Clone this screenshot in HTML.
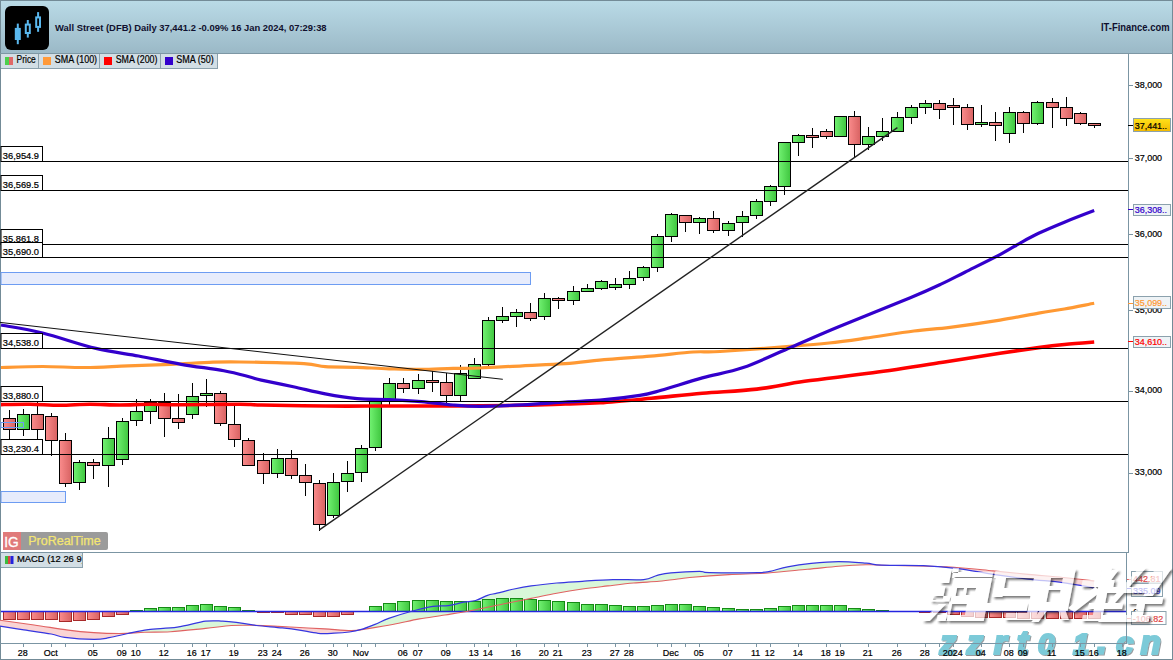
<!DOCTYPE html>
<html><head><meta charset="utf-8"><style>
html,body{margin:0;padding:0;width:1173px;height:660px;overflow:hidden;background:#fff}
svg{display:block}
text{font-family:"Liberation Sans", sans-serif}
</style></head><body>
<svg width="1173" height="660" viewBox="0 0 1173 660">
<defs>
<linearGradient id="hdr" x1="0" y1="0" x2="0" y2="1"><stop offset="0" stop-color="#badbe7"/><stop offset="1" stop-color="#9bb9c7"/></linearGradient>
<linearGradient id="gG" x1="0" y1="0" x2="1" y2="0"><stop offset="0" stop-color="#72f272"/><stop offset="1" stop-color="#3fc63f"/></linearGradient>
<linearGradient id="gR" x1="0" y1="0" x2="1" y2="0"><stop offset="0" stop-color="#fa8c8c"/><stop offset="1" stop-color="#d86262"/></linearGradient>
<linearGradient id="yl" x1="0" y1="0" x2="0" y2="1"><stop offset="0" stop-color="#ffe21a"/><stop offset="1" stop-color="#f2b800"/></linearGradient>
</defs>

<rect x="0" y="0" width="1173" height="53" fill="url(#hdr)"/>
<rect x="0.5" y="0.5" width="1172" height="659" fill="none" stroke="#738b97" stroke-width="1"/>
<line x1="0" y1="53.5" x2="1173" y2="53.5" stroke="#7d97a4"/>
<rect x="5" y="6" width="44" height="44" rx="6" fill="#000"/>
<g fill="none" stroke="#5ab8ee" stroke-width="2"><rect x="14.8" y="27.9" width="6" height="12.1" fill="#5ab8ee" stroke="none"/><line x1="17.8" y1="23.6" x2="17.8" y2="44.2"/><rect x="25.8" y="24.6" width="4" height="8.4"/><line x1="27.8" y1="20" x2="27.8" y2="24.6"/><line x1="27.8" y1="33" x2="27.8" y2="37.6"/><rect x="36.2" y="17.4" width="3.8" height="9.5"/><line x1="38.1" y1="12.1" x2="38.1" y2="17.4"/><line x1="38.1" y1="26.9" x2="38.1" y2="31.8"/></g>
<text x="55.1" y="30.6" font-size="9.9" font-weight="bold" fill="#10102e" textLength="271.5" lengthAdjust="spacingAndGlyphs">Wall Street (DFB) Daily 37,441.2 -0.09% 16 Jan 2024, 07:29:38</text>
<text x="1101" y="30.9" font-size="10" fill="#10102e" textLength="68.5" lengthAdjust="spacingAndGlyphs" font-weight="bold">IT-Finance.com</text>
<rect x="1" y="54" width="216.5" height="14.5" fill="#d2dee5"/>
<line x1="38.5" y1="54" x2="38.5" y2="69" stroke="#8ba1ad"/>
<line x1="99.5" y1="54" x2="99.5" y2="69" stroke="#8ba1ad"/>
<line x1="160.5" y1="54" x2="160.5" y2="69" stroke="#8ba1ad"/>
<line x1="217.5" y1="54" x2="217.5" y2="69" stroke="#8ba1ad"/>
<line x1="1" y1="68.5" x2="218" y2="68.5" stroke="#8ba1ad"/>
<rect x="5" y="57" width="4" height="8" fill="#4ccf4c"/><rect x="9" y="57" width="4" height="8" fill="#e06868"/>
<rect x="43" y="57" width="8" height="8" fill="#ff9a3a"/>
<rect x="104" y="57" width="8" height="8" fill="#ff0000"/>
<rect x="165" y="57" width="8" height="8" fill="#3300cc"/>
<text x="16.6" y="62.8" font-size="10" fill="#000" textLength="19.2" lengthAdjust="spacingAndGlyphs" stroke="#000" stroke-width="0.2">Price</text>
<text x="54.8" y="62.8" font-size="10" fill="#000" textLength="42.3" lengthAdjust="spacingAndGlyphs" stroke="#000" stroke-width="0.2">SMA (100)</text>
<text x="115.7" y="62.8" font-size="10" fill="#000" textLength="41.8" lengthAdjust="spacingAndGlyphs" stroke="#000" stroke-width="0.2">SMA (200)</text>
<text x="176.3" y="62.8" font-size="10" fill="#000" textLength="37.5" lengthAdjust="spacingAndGlyphs" stroke="#000" stroke-width="0.2">SMA (50)</text>
<line x1="1128.5" y1="54" x2="1128.5" y2="552" stroke="#7b95a3"/>
<line x1="0" y1="552.5" x2="1129" y2="552.5" stroke="#7b95a3"/>
<rect x="1" y="272.5" width="529.5" height="12" fill="#e7ecfc" stroke="#6d9cf2" stroke-width="1"/>
<rect x="1" y="491.5" width="64.5" height="11" fill="#e7ecfc" stroke="#6d9cf2" stroke-width="1"/>
<g stroke="#000" stroke-width="1">
<line x1="9.5" y1="410" x2="9.5" y2="439"/>
<rect x="3.5" y="418.5" width="12" height="11" fill="url(#gR)"/>
<line x1="23.5" y1="409" x2="23.5" y2="436"/>
<rect x="17.5" y="414.5" width="12" height="15" fill="url(#gG)"/>
<line x1="37.5" y1="402" x2="37.5" y2="439"/>
<rect x="31.5" y="414.5" width="12" height="15" fill="url(#gR)"/>
<line x1="51.5" y1="413" x2="51.5" y2="456"/>
<rect x="45.5" y="416.5" width="12" height="24" fill="url(#gR)"/>
<line x1="65.5" y1="433" x2="65.5" y2="487"/>
<rect x="59.5" y="440.5" width="12" height="43" fill="url(#gR)"/>
<line x1="79.5" y1="460" x2="79.5" y2="490"/>
<rect x="73.5" y="462.5" width="12" height="20" fill="url(#gG)"/>
<line x1="93.5" y1="459" x2="93.5" y2="479"/>
<rect x="87.5" y="462.5" width="12" height="3" fill="url(#gR)"/>
<line x1="108.5" y1="427" x2="108.5" y2="487"/>
<rect x="102.5" y="438.5" width="12" height="27" fill="url(#gG)"/>
<line x1="122.5" y1="418" x2="122.5" y2="465"/>
<rect x="116.5" y="421.5" width="12" height="38" fill="url(#gG)"/>
<line x1="136.5" y1="399" x2="136.5" y2="426"/>
<rect x="130.5" y="411.5" width="12" height="9" fill="url(#gG)"/>
<line x1="150.5" y1="399" x2="150.5" y2="424"/>
<rect x="144.5" y="402.5" width="12" height="9" fill="url(#gG)"/>
<line x1="164.5" y1="393" x2="164.5" y2="437"/>
<rect x="158.5" y="402.5" width="12" height="16" fill="url(#gR)"/>
<line x1="178.5" y1="394" x2="178.5" y2="429"/>
<rect x="172.5" y="418.5" width="12" height="4" fill="url(#gR)"/>
<line x1="192.5" y1="383" x2="192.5" y2="419"/>
<rect x="186.5" y="396.5" width="12" height="18" fill="url(#gG)"/>
<line x1="206.5" y1="379" x2="206.5" y2="407"/>
<rect x="200.5" y="393.5" width="12" height="2" fill="url(#gG)"/>
<line x1="220.5" y1="391" x2="220.5" y2="426"/>
<rect x="214.5" y="393.5" width="12" height="30" fill="url(#gR)"/>
<line x1="234.5" y1="405" x2="234.5" y2="447"/>
<rect x="228.5" y="424.5" width="12" height="15" fill="url(#gR)"/>
<line x1="248.5" y1="438" x2="248.5" y2="466"/>
<rect x="242.5" y="440.5" width="12" height="25" fill="url(#gR)"/>
<line x1="263.5" y1="453" x2="263.5" y2="484"/>
<rect x="257.5" y="460.5" width="12" height="13" fill="url(#gR)"/>
<line x1="277.5" y1="449" x2="277.5" y2="478"/>
<rect x="271.5" y="458.5" width="12" height="15" fill="url(#gG)"/>
<line x1="291.5" y1="450" x2="291.5" y2="479"/>
<rect x="285.5" y="458.5" width="12" height="17" fill="url(#gR)"/>
<line x1="305.5" y1="464" x2="305.5" y2="496"/>
<rect x="299.5" y="475.5" width="12" height="7" fill="url(#gR)"/>
<line x1="319.5" y1="480" x2="319.5" y2="531"/>
<rect x="313.5" y="483.5" width="12" height="41" fill="url(#gR)"/>
<line x1="333.5" y1="473" x2="333.5" y2="518"/>
<rect x="327.5" y="482.5" width="12" height="33" fill="url(#gG)"/>
<line x1="347.5" y1="461" x2="347.5" y2="492"/>
<rect x="341.5" y="473.5" width="12" height="8" fill="url(#gG)"/>
<line x1="361.5" y1="445" x2="361.5" y2="482"/>
<rect x="355.5" y="448.5" width="12" height="24" fill="url(#gG)"/>
<line x1="375.5" y1="399" x2="375.5" y2="451"/>
<rect x="369.5" y="401.5" width="12" height="46" fill="url(#gG)"/>
<line x1="389.5" y1="378" x2="389.5" y2="405"/>
<rect x="383.5" y="383.5" width="12" height="16" fill="url(#gG)"/>
<line x1="403.5" y1="378" x2="403.5" y2="393"/>
<rect x="397.5" y="383.5" width="12" height="5" fill="url(#gR)"/>
<line x1="418.5" y1="374" x2="418.5" y2="394"/>
<rect x="412.5" y="380.5" width="12" height="8" fill="url(#gG)"/>
<line x1="432.5" y1="371" x2="432.5" y2="392"/>
<rect x="426.5" y="380.5" width="12" height="2" fill="url(#gR)"/>
<line x1="446.5" y1="373" x2="446.5" y2="403"/>
<rect x="440.5" y="382.5" width="12" height="13" fill="url(#gR)"/>
<line x1="460.5" y1="365" x2="460.5" y2="401"/>
<rect x="454.5" y="373.5" width="12" height="22" fill="url(#gG)"/>
<line x1="474.5" y1="358" x2="474.5" y2="379"/>
<rect x="468.5" y="364.5" width="12" height="14" fill="url(#gG)"/>
<line x1="488.5" y1="317" x2="488.5" y2="366"/>
<rect x="482.5" y="320.5" width="12" height="44" fill="url(#gG)"/>
<line x1="502.5" y1="307" x2="502.5" y2="323"/>
<rect x="496.5" y="316.5" width="12" height="4" fill="url(#gG)"/>
<line x1="516.5" y1="309" x2="516.5" y2="327"/>
<rect x="510.5" y="312.5" width="12" height="4" fill="url(#gG)"/>
<line x1="530.5" y1="303" x2="530.5" y2="321"/>
<rect x="524.5" y="312.5" width="12" height="6" fill="url(#gR)"/>
<line x1="544.5" y1="293" x2="544.5" y2="320"/>
<rect x="538.5" y="298.5" width="12" height="18" fill="url(#gG)"/>
<line x1="558.5" y1="297" x2="558.5" y2="309"/>
<rect x="552.5" y="298.5" width="12" height="2" fill="url(#gR)"/>
<line x1="573.5" y1="286" x2="573.5" y2="305"/>
<rect x="567.5" y="291.5" width="12" height="9" fill="url(#gG)"/>
<line x1="587.5" y1="284" x2="587.5" y2="292"/>
<rect x="581.5" y="288.5" width="12" height="3" fill="url(#gG)"/>
<line x1="601.5" y1="280" x2="601.5" y2="290"/>
<rect x="595.5" y="281.5" width="12" height="7" fill="url(#gG)"/>
<line x1="615.5" y1="278" x2="615.5" y2="290"/>
<rect x="609.5" y="284.5" width="12" height="3" fill="url(#gG)"/>
<line x1="629.5" y1="271" x2="629.5" y2="289"/>
<rect x="623.5" y="278.5" width="12" height="6" fill="url(#gG)"/>
<line x1="643.5" y1="266" x2="643.5" y2="281"/>
<rect x="637.5" y="267.5" width="12" height="10" fill="url(#gG)"/>
<line x1="657.5" y1="234" x2="657.5" y2="272"/>
<rect x="651.5" y="236.5" width="12" height="31" fill="url(#gG)"/>
<line x1="671.5" y1="213" x2="671.5" y2="242"/>
<rect x="665.5" y="214.5" width="12" height="22" fill="url(#gG)"/>
<line x1="685.5" y1="215" x2="685.5" y2="232"/>
<rect x="679.5" y="215.5" width="12" height="7" fill="url(#gR)"/>
<line x1="699.5" y1="217" x2="699.5" y2="234"/>
<rect x="693.5" y="218.5" width="12" height="4" fill="url(#gG)"/>
<line x1="713.5" y1="211" x2="713.5" y2="233"/>
<rect x="707.5" y="218.5" width="12" height="12" fill="url(#gR)"/>
<line x1="728.5" y1="221" x2="728.5" y2="236"/>
<rect x="722.5" y="223.5" width="12" height="7" fill="url(#gG)"/>
<line x1="742.5" y1="211" x2="742.5" y2="237"/>
<rect x="736.5" y="216.5" width="12" height="6" fill="url(#gG)"/>
<line x1="756.5" y1="199" x2="756.5" y2="219"/>
<rect x="750.5" y="201.5" width="12" height="14" fill="url(#gG)"/>
<line x1="770.5" y1="185" x2="770.5" y2="206"/>
<rect x="764.5" y="186.5" width="12" height="15" fill="url(#gG)"/>
<line x1="784.5" y1="142" x2="784.5" y2="195"/>
<rect x="778.5" y="142.5" width="12" height="44" fill="url(#gG)"/>
<line x1="798.5" y1="134" x2="798.5" y2="156"/>
<rect x="792.5" y="135.5" width="12" height="7" fill="url(#gG)"/>
<line x1="812.5" y1="128" x2="812.5" y2="148"/>
<rect x="806.5" y="135.5" width="12" height="2" fill="url(#gR)"/>
<line x1="826.5" y1="129" x2="826.5" y2="139"/>
<rect x="820.5" y="131.5" width="12" height="5" fill="url(#gR)"/>
<line x1="840.5" y1="116" x2="840.5" y2="137"/>
<rect x="834.5" y="116.5" width="12" height="20" fill="url(#gG)"/>
<line x1="854.5" y1="111" x2="854.5" y2="158"/>
<rect x="848.5" y="116.5" width="12" height="28" fill="url(#gR)"/>
<line x1="868.5" y1="127" x2="868.5" y2="150"/>
<rect x="862.5" y="136.5" width="12" height="8" fill="url(#gG)"/>
<line x1="882.5" y1="118" x2="882.5" y2="141"/>
<rect x="876.5" y="131.5" width="12" height="5" fill="url(#gG)"/>
<line x1="897.5" y1="112" x2="897.5" y2="132"/>
<rect x="891.5" y="117.5" width="12" height="14" fill="url(#gG)"/>
<line x1="911.5" y1="105" x2="911.5" y2="124"/>
<rect x="905.5" y="107.5" width="12" height="10" fill="url(#gG)"/>
<line x1="925.5" y1="100" x2="925.5" y2="114"/>
<rect x="919.5" y="103.5" width="12" height="4" fill="url(#gG)"/>
<line x1="939.5" y1="100" x2="939.5" y2="119"/>
<rect x="933.5" y="103.5" width="12" height="6" fill="url(#gR)"/>
<line x1="953.5" y1="98" x2="953.5" y2="125"/>
<rect x="947.5" y="105.5" width="12" height="2" fill="url(#gR)"/>
<line x1="967.5" y1="104" x2="967.5" y2="130"/>
<rect x="961.5" y="107.5" width="12" height="17" fill="url(#gR)"/>
<line x1="981.5" y1="105" x2="981.5" y2="127"/>
<rect x="975.5" y="122.5" width="12" height="2" fill="url(#gG)"/>
<line x1="995.5" y1="112" x2="995.5" y2="141"/>
<rect x="989.5" y="122.5" width="12" height="3" fill="url(#gR)"/>
<line x1="1009.5" y1="107" x2="1009.5" y2="143"/>
<rect x="1003.5" y="112.5" width="12" height="21" fill="url(#gG)"/>
<line x1="1023.5" y1="111" x2="1023.5" y2="133"/>
<rect x="1017.5" y="112.5" width="12" height="11" fill="url(#gR)"/>
<line x1="1037.5" y1="101" x2="1037.5" y2="125"/>
<rect x="1031.5" y="102.5" width="12" height="21" fill="url(#gG)"/>
<line x1="1052.5" y1="98" x2="1052.5" y2="128"/>
<rect x="1046.5" y="102.5" width="12" height="5" fill="url(#gR)"/>
<line x1="1066.5" y1="97" x2="1066.5" y2="126"/>
<rect x="1060.5" y="107.5" width="12" height="11" fill="url(#gR)"/>
<line x1="1080.5" y1="112" x2="1080.5" y2="125"/>
<rect x="1074.5" y="113.5" width="12" height="10" fill="url(#gR)"/>
<line x1="1094.5" y1="123" x2="1094.5" y2="128"/>
<rect x="1088.5" y="123.5" width="12" height="2" fill="url(#gR)"/>
</g>
<path d="M1.0,367.5 C7.9,367.3 28.6,366.5 42.6,366.5 C56.6,366.5 71.1,367.6 85.3,367.5 C99.5,367.4 113.7,366.3 127.9,365.8 C142.1,365.3 156.3,364.9 170.5,364.3 C184.7,363.7 201.5,362.6 213.1,362.2 C224.7,361.8 224.9,361.8 240.0,362.0 C255.1,362.2 289.7,362.9 303.9,363.7 C318.1,364.5 316.4,366.1 325.3,366.7 C334.2,367.3 346.6,366.9 357.2,367.3 C367.8,367.7 378.5,368.5 389.2,368.8 C399.9,369.1 410.5,369.5 421.2,369.4 C431.9,369.3 443.3,368.6 453.1,368.4 C462.9,368.2 468.4,368.4 480.0,368.0 C491.6,367.6 508.4,366.5 522.6,365.8 C536.8,365.1 551.1,364.8 565.3,363.7 C579.5,362.6 593.7,360.6 607.9,359.4 C622.1,358.1 636.3,357.4 650.5,356.2 C664.7,355.0 681.5,352.8 693.1,352.0 C704.7,351.2 703.4,352.5 720.0,351.5 C736.6,350.5 774.5,347.6 792.7,346.2 C810.9,344.8 817.0,344.3 829.1,343.0 C841.2,341.7 851.4,340.2 865.5,338.2 C879.6,336.2 899.9,332.8 914.0,331.0 C928.1,329.2 935.7,329.1 950.0,327.3 C964.3,325.5 985.2,322.5 1000.0,320.1 C1014.8,317.7 1027.9,315.0 1038.6,313.1 C1049.3,311.2 1055.1,310.6 1064.4,309.0 C1073.7,307.4 1089.2,304.2 1094.2,303.3" fill="none" stroke="#ff9933" stroke-width="3.2" stroke-linejoin="round"/>
<path d="M1.0,404.6 C5.8,404.5 20.2,404.1 30.0,404.2 C39.8,404.3 50.0,405.2 60.0,405.2 C70.0,405.2 80.0,404.2 90.0,404.2 C100.0,404.2 110.0,405.0 120.0,405.0 C130.0,405.0 140.0,404.2 150.0,404.2 C160.0,404.2 165.0,404.8 180.0,404.8 C195.0,404.8 226.4,404.2 240.0,404.2 C253.6,404.2 247.1,404.7 261.3,405.0 C275.5,405.3 304.0,405.8 325.3,406.0 C346.6,406.2 367.9,406.0 389.2,406.0 C410.5,406.0 430.9,406.1 453.1,406.0 C475.3,405.9 503.9,405.6 522.6,405.3 C541.3,405.0 552.4,404.4 565.3,404.0 C578.2,403.6 585.7,403.8 600.0,402.8 C614.3,401.9 634.2,399.9 651.2,398.3 C668.2,396.7 684.7,394.7 702.3,393.2 C719.9,391.7 739.8,391.1 756.9,389.1 C774.0,387.1 785.3,384.0 804.6,381.3 C823.9,378.6 850.1,375.9 872.8,372.8 C895.5,369.7 919.8,365.8 941.0,362.5 C962.2,359.2 983.7,355.8 1000.0,353.3 C1016.3,350.8 1027.9,349.1 1038.6,347.6 C1049.3,346.1 1055.1,345.4 1064.4,344.5 C1073.7,343.6 1089.2,342.4 1094.2,342.0" fill="none" stroke="#ff0000" stroke-width="3.6" stroke-linejoin="round"/>
<path d="M1.0,325.0 C7.9,326.3 26.8,329.1 42.6,333.0 C58.4,336.9 79.9,344.6 95.9,348.4 C111.9,352.2 124.3,353.4 138.5,356.0 C152.7,358.6 167.0,361.9 181.2,364.3 C195.4,366.8 212.3,368.6 223.8,370.7 C235.3,372.8 243.8,375.4 250.0,377.0 C256.2,378.6 254.1,378.5 261.3,380.1 C268.5,381.7 282.6,384.5 293.3,386.8 C304.0,389.1 314.7,391.9 325.3,393.9 C335.9,395.9 346.6,397.7 357.2,398.6 C367.8,399.6 378.5,399.1 389.2,399.6 C399.9,400.1 410.5,400.7 421.2,401.6 C431.9,402.5 443.3,404.2 453.1,405.0 C462.9,405.8 468.4,406.3 480.0,406.3 C491.6,406.3 508.4,405.5 522.6,404.8 C536.8,404.1 552.4,402.8 565.3,402.0 C578.2,401.2 587.6,401.3 600.0,400.2 C612.4,399.1 629.6,397.0 639.8,395.4 C650.0,393.8 650.8,393.2 661.2,390.3 C671.6,387.4 688.6,381.7 702.3,377.9 C716.0,374.1 728.4,372.7 743.2,367.6 C758.0,362.5 775.1,354.0 791.0,347.2 C806.9,340.4 818.8,334.9 838.7,326.7 C858.6,318.4 893.2,304.8 910.3,297.7 C927.3,290.6 931.9,288.4 941.0,284.1 C950.1,279.9 955.1,277.1 964.9,272.2 C974.7,267.3 990.7,259.5 1000.0,254.6 C1009.3,249.7 1014.2,246.4 1020.6,242.8 C1027.0,239.2 1031.3,236.7 1038.6,233.3 C1045.9,229.9 1055.1,226.0 1064.4,222.2 C1073.7,218.4 1089.2,212.5 1094.2,210.6" fill="none" stroke="#3300cc" stroke-width="3.2" stroke-linejoin="round"/>
<line x1="1" y1="161.5" x2="1128" y2="161.5" stroke="#000"/>
<line x1="1" y1="190.5" x2="1128" y2="190.5" stroke="#000"/>
<line x1="1" y1="244.5" x2="1128" y2="244.5" stroke="#000"/>
<line x1="1" y1="257.5" x2="1128" y2="257.5" stroke="#000"/>
<line x1="1" y1="348.5" x2="1128" y2="348.5" stroke="#000"/>
<line x1="1" y1="401.5" x2="1128" y2="401.5" stroke="#000"/>
<line x1="1" y1="454.5" x2="1128" y2="454.5" stroke="#000"/>
<rect x="1" y="146.5" width="41.5" height="15" fill="#fff" stroke="#000"/>
<text transform="translate(2.8,158.8) scale(0.96,1)" font-size="9.7" fill="#000" stroke="#000" stroke-width="0.22">36,954.9</text>
<rect x="1" y="175.5" width="41.5" height="15" fill="#fff" stroke="#000"/>
<text transform="translate(2.8,187.8) scale(0.96,1)" font-size="9.7" fill="#000" stroke="#000" stroke-width="0.22">36,569.5</text>
<rect x="1" y="229.5" width="41.5" height="15" fill="#fff" stroke="#000"/>
<text transform="translate(2.8,241.8) scale(0.96,1)" font-size="9.7" fill="#000" stroke="#000" stroke-width="0.22">35,861.8</text>
<rect x="1" y="242.5" width="41.5" height="15" fill="#fff" stroke="#000"/>
<text transform="translate(2.8,254.8) scale(0.96,1)" font-size="9.7" fill="#000" stroke="#000" stroke-width="0.22">35,690.0</text>
<rect x="1" y="333.5" width="41.5" height="15" fill="#fff" stroke="#000"/>
<text transform="translate(2.8,345.8) scale(0.96,1)" font-size="9.7" fill="#000" stroke="#000" stroke-width="0.22">34,538.0</text>
<rect x="1" y="386.5" width="41.5" height="15" fill="#fff" stroke="#000"/>
<text transform="translate(2.8,398.8) scale(0.96,1)" font-size="9.7" fill="#000" stroke="#000" stroke-width="0.22">33,880.0</text>
<rect x="1" y="439.5" width="41.5" height="15" fill="#fff" stroke="#000"/>
<text transform="translate(2.8,451.8) scale(0.96,1)" font-size="9.7" fill="#000" stroke="#000" stroke-width="0.22">33,230.4</text>
<line x1="0" y1="322.4" x2="502.8" y2="379.3" stroke="#111" stroke-width="1"/>
<line x1="319.4" y1="529.9" x2="897.4" y2="127.6" stroke="#222" stroke-width="1.4"/>
<rect x="1" y="422.5" width="22.5" height="5" fill="none" stroke="#6d9cf2"/>
<line x1="1128" y1="85.5" x2="1133" y2="85.5" stroke="#7b95a3"/>
<text transform="translate(1134.7,87.9) scale(0.925,1)" font-size="9.7" fill="#000" stroke="#000" stroke-width="0.22">38,000</text>
<line x1="1128" y1="158.5" x2="1133" y2="158.5" stroke="#7b95a3"/>
<text transform="translate(1134.7,160.9) scale(0.925,1)" font-size="9.7" fill="#000" stroke="#000" stroke-width="0.22">37,000</text>
<line x1="1128" y1="234.5" x2="1133" y2="234.5" stroke="#7b95a3"/>
<text transform="translate(1134.7,236.7) scale(0.925,1)" font-size="9.7" fill="#000" stroke="#000" stroke-width="0.22">36,000</text>
<line x1="1128" y1="310.5" x2="1133" y2="310.5" stroke="#7b95a3"/>
<text transform="translate(1134.7,312.8) scale(0.925,1)" font-size="9.7" fill="#000" stroke="#000" stroke-width="0.22">35,000</text>
<line x1="1128" y1="391.5" x2="1133" y2="391.5" stroke="#7b95a3"/>
<text transform="translate(1134.7,393.4) scale(0.925,1)" font-size="9.7" fill="#000" stroke="#000" stroke-width="0.22">34,000</text>
<line x1="1128" y1="473.5" x2="1133" y2="473.5" stroke="#7b95a3"/>
<text transform="translate(1134.7,475.2) scale(0.925,1)" font-size="9.7" fill="#000" stroke="#000" stroke-width="0.22">33,000</text>
<line x1="1128" y1="125.5" x2="1134" y2="125.5" stroke="#000"/><rect x="1133.5" y="118.5" width="37" height="13.0" fill="url(#yl)" stroke="#8ba1ad"/><text transform="translate(1134.7,128.9) scale(0.925,1)" font-size="9.7" fill="#000" stroke="#000" stroke-width="0.22">37,441..</text>
<line x1="1128" y1="209.5" x2="1134" y2="209.5" stroke="#3300cc"/><rect x="1133.5" y="204.5" width="37" height="11.0" fill="#eef3f6" stroke="#8ba1ad"/><text transform="translate(1134.7,212.9) scale(0.925,1)" font-size="9.7" fill="#3300cc" stroke="#3300cc" stroke-width="0.22">36,308..</text>
<line x1="1128" y1="303.5" x2="1134" y2="303.5" stroke="#ff9933"/><rect x="1133.5" y="296.5" width="37" height="12.0" fill="#eef3f6" stroke="#8ba1ad"/><text transform="translate(1134.7,305.9) scale(0.925,1)" font-size="9.7" fill="#ff9933" stroke="#ff9933" stroke-width="0.22">35,099..</text>
<line x1="1128" y1="341.5" x2="1134" y2="341.5" stroke="#ff0000"/><rect x="1133.5" y="336.5" width="37" height="11.0" fill="#eef3f6" stroke="#8ba1ad"/><text transform="translate(1134.7,344.9) scale(0.925,1)" font-size="9.7" fill="#ff0000" stroke="#ff0000" stroke-width="0.22">34,610..</text>
<rect x="3" y="532" width="105" height="18" rx="2" fill="#9b9b9b"/>
<rect x="3" y="532" width="18" height="18" fill="#e07a7a"/>
<text x="4.3" y="547.3" font-size="14.5" fill="#fff" stroke="#fff" stroke-width="0.3" textLength="14.5" lengthAdjust="spacingAndGlyphs">IG</text>
<text x="28.2" y="545.2" font-size="12.3" fill="#f4e672" stroke="#f4e672" stroke-width="0.25" textLength="72.5" lengthAdjust="spacingAndGlyphs">ProRealTime</text>
<line x1="1126.5" y1="553" x2="1126.5" y2="643" stroke="#7b95a3"/>
<rect x="1" y="553" width="82" height="14.5" fill="#d2dee5"/>
<line x1="82.5" y1="553" x2="82.5" y2="568" stroke="#8ba1ad"/><line x1="1" y1="567.5" x2="83" y2="567.5" stroke="#8ba1ad"/>
<rect x="5" y="556" width="3" height="8" fill="#3dbb3d"/><rect x="8" y="556" width="2.5" height="8" fill="#dd4444"/><rect x="10.5" y="556" width="3" height="8" fill="#2222dd"/>
<svg x="0" y="553" width="82" height="15"><text transform="translate(16.9,8.9) scale(0.97,1)" font-size="9.7" fill="#000" stroke="#000" stroke-width="0.22">MACD (12 26 9)</text></svg>
<polygon points="0.0,626.1 1.0,626.3 2.0,626.4 3.0,626.6 4.0,626.7 5.0,626.9 6.0,627.0 7.0,627.2 8.0,627.4 9.0,627.5 10.0,627.7 11.0,627.8 12.0,628.0 13.0,628.1 14.0,628.3 15.0,628.5 16.0,628.6 17.0,628.8 18.0,628.9 19.0,629.1 20.0,629.3 21.0,629.4 22.0,629.6 23.0,629.7 24.0,629.9 25.0,630.0 26.0,630.2 27.0,630.3 28.0,630.5 29.0,630.6 30.0,630.8 31.0,630.9 32.0,631.1 33.0,631.2 34.0,631.4 35.0,631.5 36.0,631.7 37.0,631.8 38.0,632.0 39.0,632.1 40.0,632.3 41.0,632.5 42.0,632.6 43.0,632.8 44.0,632.9 45.0,633.1 46.0,633.2 47.0,633.4 48.0,633.5 49.0,633.7 50.0,633.8 51.0,634.0 52.0,634.2 53.0,634.5 54.0,634.7 55.0,635.0 56.0,635.2 57.0,635.5 58.0,635.7 59.0,635.9 60.0,636.2 61.0,636.4 62.0,636.7 63.0,636.9 64.0,637.2 65.0,637.4 66.0,637.5 67.0,637.6 68.0,637.6 69.0,637.7 70.0,637.8 71.0,637.8 72.0,637.9 73.0,638.0 74.0,638.0 75.0,638.1 76.0,638.2 77.0,638.2 78.0,638.3 79.0,638.4 80.0,638.4 81.0,638.5 82.0,638.6 83.0,638.7 84.0,638.7 85.0,638.8 86.0,638.9 87.0,638.9 88.0,639.0 89.0,639.1 90.0,639.1 91.0,639.2 92.0,639.3 93.0,639.3 94.0,639.4 95.0,639.3 96.0,639.2 97.0,639.0 98.0,638.9 99.0,638.8 100.0,638.7 101.0,638.6 102.0,638.5 103.0,638.4 104.0,638.3 105.0,638.2 106.0,638.0 107.0,637.9 108.0,637.8 109.0,637.7 110.0,637.5 111.0,637.3 112.0,637.1 113.0,636.8 114.0,636.6 115.0,636.4 116.0,636.2 117.0,635.9 118.0,635.7 119.0,635.5 120.0,635.3 121.0,635.0 122.0,634.8 123.0,634.6 124.0,634.4 125.0,634.1 126.0,633.9 127.0,633.7 128.0,633.5 129.0,633.3 130.0,633.1 130.0,633.0 129.0,633.0 128.0,633.1 127.0,633.1 126.0,633.2 125.0,633.2 124.0,633.3 123.0,633.3 122.0,633.4 121.0,633.4 120.0,633.5 119.0,633.5 118.0,633.5 117.0,633.4 116.0,633.4 115.0,633.3 114.0,633.3 113.0,633.3 112.0,633.2 111.0,633.2 110.0,633.2 109.0,633.1 108.0,633.1 107.0,633.1 106.0,633.0 105.0,633.0 104.0,633.0 103.0,632.9 102.0,632.9 101.0,632.9 100.0,632.8 99.0,632.8 98.0,632.7 97.0,632.7 96.0,632.7 95.0,632.6 94.0,632.6 93.0,632.5 92.0,632.4 91.0,632.3 90.0,632.2 89.0,632.1 88.0,632.0 87.0,631.9 86.0,631.8 85.0,631.7 84.0,631.6 83.0,631.5 82.0,631.4 81.0,631.4 80.0,631.3 79.0,631.2 78.0,631.1 77.0,631.0 76.0,630.9 75.0,630.8 74.0,630.7 73.0,630.6 72.0,630.5 71.0,630.4 70.0,630.3 69.0,630.2 68.0,630.1 67.0,629.9 66.0,629.8 65.0,629.6 64.0,629.5 63.0,629.3 62.0,629.2 61.0,629.0 60.0,628.9 59.0,628.7 58.0,628.6 57.0,628.4 56.0,628.3 55.0,628.1 54.0,628.0 53.0,627.8 52.0,627.7 51.0,627.5 50.0,627.4 49.0,627.2 48.0,627.1 47.0,626.9 46.0,626.8 45.0,626.6 44.0,626.5 43.0,626.3 42.0,626.2 41.0,626.0 40.0,625.9 39.0,625.7 38.0,625.6 37.0,625.4 36.0,625.3 35.0,625.1 34.0,625.0 33.0,624.8 32.0,624.7 31.0,624.6 30.0,624.4 29.0,624.3 28.0,624.2 27.0,624.0 26.0,623.9 25.0,623.7 24.0,623.6 23.0,623.5 22.0,623.3 21.0,623.2 20.0,623.1 19.0,622.9 18.0,622.8 17.0,622.6 16.0,622.5 15.0,622.4 14.0,622.2 13.0,622.1 12.0,622.0 11.0,621.8 10.0,621.7 9.0,621.5 8.0,621.4 7.0,621.3 6.0,621.1 5.0,621.0 4.0,620.9 3.0,620.7 2.0,620.6 1.0,620.4 0.0,620.3" fill="#fad4d4"/>
<polygon points="131.0,632.9 132.0,632.7 133.0,632.5 134.0,632.3 135.0,632.1 136.0,632.0 137.0,631.8 138.0,631.6 139.0,631.4 140.0,631.2 141.0,631.0 142.0,630.8 143.0,630.6 144.0,630.4 145.0,630.2 146.0,630.0 147.0,629.8 148.0,629.7 149.0,629.5 150.0,629.5 151.0,629.4 152.0,629.3 153.0,629.2 154.0,629.1 155.0,629.0 156.0,629.0 157.0,628.9 158.0,628.8 159.0,628.7 160.0,628.6 161.0,628.5 162.0,628.5 163.0,628.4 164.0,628.3 165.0,628.2 166.0,628.1 167.0,628.1 168.0,628.0 169.0,627.9 170.0,627.8 171.0,627.7 172.0,627.6 173.0,627.6 174.0,627.5 175.0,627.4 176.0,627.3 177.0,627.2 178.0,627.1 179.0,626.8 180.0,626.6 181.0,626.4 182.0,626.2 183.0,626.0 184.0,625.8 185.0,625.6 186.0,625.4 187.0,625.1 188.0,624.9 189.0,624.7 190.0,624.5 191.0,624.3 192.0,624.1 193.0,623.9 194.0,623.7 195.0,623.4 196.0,623.2 197.0,623.0 198.0,622.8 199.0,622.6 200.0,622.4 201.0,622.2 202.0,622.0 203.0,621.8 204.0,621.5 205.0,621.3 206.0,621.2 207.0,621.2 208.0,621.2 209.0,621.2 210.0,621.2 211.0,621.2 212.0,621.2 213.0,621.2 214.0,621.2 215.0,621.2 216.0,621.2 217.0,621.2 218.0,621.2 219.0,621.2 220.0,621.2 221.0,621.2 222.0,621.2 223.0,621.2 224.0,621.3 225.0,621.4 226.0,621.5 227.0,621.6 228.0,621.7 229.0,621.8 230.0,621.8 231.0,621.9 232.0,622.0 233.0,622.1 234.0,622.2 235.0,622.3 236.0,622.4 237.0,622.5 238.0,622.7 239.0,622.8 240.0,623.0 241.0,623.1 242.0,623.3 243.0,623.4 244.0,623.6 245.0,623.7 246.0,623.9 247.0,624.0 248.0,624.2 249.0,624.3 250.0,624.5 251.0,624.6 252.0,624.8 253.0,624.9 254.0,625.1 255.0,625.2 256.0,625.4 256.0,625.5 255.0,625.4 254.0,625.4 253.0,625.4 252.0,625.3 251.0,625.3 250.0,625.3 249.0,625.3 248.0,625.3 247.0,625.3 246.0,625.4 245.0,625.4 244.0,625.4 243.0,625.4 242.0,625.4 241.0,625.4 240.0,625.4 239.0,625.4 238.0,625.4 237.0,625.4 236.0,625.5 235.0,625.5 234.0,625.5 233.0,625.5 232.0,625.5 231.0,625.5 230.0,625.6 229.0,625.7 228.0,625.9 227.0,626.0 226.0,626.1 225.0,626.2 224.0,626.3 223.0,626.4 222.0,626.5 221.0,626.7 220.0,626.8 219.0,626.9 218.0,627.0 217.0,627.1 216.0,627.2 215.0,627.3 214.0,627.4 213.0,627.6 212.0,627.7 211.0,627.8 210.0,627.9 209.0,628.0 208.0,628.1 207.0,628.2 206.0,628.4 205.0,628.5 204.0,628.6 203.0,628.7 202.0,628.7 201.0,628.8 200.0,628.9 199.0,629.0 198.0,629.1 197.0,629.2 196.0,629.3 195.0,629.4 194.0,629.5 193.0,629.6 192.0,629.7 191.0,629.8 190.0,629.9 189.0,630.0 188.0,630.1 187.0,630.2 186.0,630.3 185.0,630.4 184.0,630.5 183.0,630.6 182.0,630.7 181.0,630.8 180.0,630.9 179.0,631.0 178.0,631.1 177.0,631.2 176.0,631.3 175.0,631.4 174.0,631.5 173.0,631.6 172.0,631.7 171.0,631.8 170.0,631.8 169.0,631.8 168.0,631.8 167.0,631.9 166.0,631.9 165.0,631.9 164.0,631.9 163.0,631.9 162.0,632.0 161.0,632.0 160.0,632.0 159.0,632.0 158.0,632.0 157.0,632.1 156.0,632.1 155.0,632.1 154.0,632.1 153.0,632.1 152.0,632.2 151.0,632.2 150.0,632.2 149.0,632.2 148.0,632.2 147.0,632.3 146.0,632.3 145.0,632.3 144.0,632.3 143.0,632.4 142.0,632.4 141.0,632.5 140.0,632.5 139.0,632.6 138.0,632.6 137.0,632.7 136.0,632.7 135.0,632.8 134.0,632.8 133.0,632.9 132.0,632.9 131.0,633.0" fill="#d9f7d9"/>
<polygon points="257.0,625.5 258.0,625.6 259.0,625.7 260.0,625.8 261.0,625.9 262.0,626.0 263.0,626.1 264.0,626.2 265.0,626.3 266.0,626.4 267.0,626.5 268.0,626.6 269.0,626.7 270.0,626.7 271.0,626.8 272.0,626.9 273.0,627.0 274.0,627.1 275.0,627.2 276.0,627.3 277.0,627.4 278.0,627.5 279.0,627.6 280.0,627.7 281.0,627.8 282.0,627.9 283.0,628.0 284.0,628.1 285.0,628.2 286.0,628.4 287.0,628.5 288.0,628.6 289.0,628.8 290.0,628.9 291.0,629.0 292.0,629.1 293.0,629.3 294.0,629.4 295.0,629.5 296.0,629.7 297.0,629.8 298.0,629.9 299.0,630.0 300.0,630.2 301.0,630.4 302.0,630.5 303.0,630.7 304.0,630.9 305.0,631.1 306.0,631.2 307.0,631.4 308.0,631.6 309.0,631.7 310.0,631.9 311.0,632.1 312.0,632.3 313.0,632.4 314.0,632.6 315.0,632.8 316.0,632.9 317.0,633.1 318.0,633.3 319.0,633.3 320.0,633.3 321.0,633.3 322.0,633.3 323.0,633.3 324.0,633.3 325.0,633.3 326.0,633.3 327.0,633.2 328.0,633.2 329.0,633.2 330.0,633.2 331.0,633.2 332.0,633.2 333.0,633.2 334.0,633.2 335.0,633.1 336.0,633.1 337.0,633.0 338.0,632.9 339.0,632.8 340.0,632.7 341.0,632.7 342.0,632.6 343.0,632.5 344.0,632.4 345.0,632.3 346.0,632.3 347.0,632.2 348.0,632.1 349.0,632.0 350.0,631.9 351.0,631.7 352.0,631.4 353.0,631.2 354.0,631.0 355.0,630.8 356.0,630.6 357.0,630.4 358.0,630.1 359.0,629.9 360.0,629.7 361.0,629.5 361.0,629.4 360.0,629.6 359.0,629.7 358.0,629.8 357.0,629.9 356.0,630.0 355.0,630.2 354.0,630.3 353.0,630.4 352.0,630.5 351.0,630.6 350.0,630.5 349.0,630.5 348.0,630.4 347.0,630.3 346.0,630.3 345.0,630.2 344.0,630.1 343.0,630.1 342.0,630.0 341.0,629.9 340.0,629.9 339.0,629.8 338.0,629.7 337.0,629.7 336.0,629.6 335.0,629.6 334.0,629.5 333.0,629.4 332.0,629.4 331.0,629.3 330.0,629.2 329.0,629.2 328.0,629.1 327.0,629.0 326.0,629.0 325.0,628.9 324.0,628.9 323.0,628.8 322.0,628.7 321.0,628.7 320.0,628.6 319.0,628.6 318.0,628.5 317.0,628.5 316.0,628.4 315.0,628.4 314.0,628.3 313.0,628.2 312.0,628.2 311.0,628.1 310.0,628.1 309.0,628.0 308.0,628.0 307.0,627.9 306.0,627.9 305.0,627.8 304.0,627.8 303.0,627.7 302.0,627.6 301.0,627.6 300.0,627.5 299.0,627.5 298.0,627.4 297.0,627.4 296.0,627.3 295.0,627.3 294.0,627.2 293.0,627.1 292.0,627.1 291.0,627.0 290.0,627.0 289.0,626.9 288.0,626.9 287.0,626.8 286.0,626.8 285.0,626.7 284.0,626.7 283.0,626.6 282.0,626.5 281.0,626.5 280.0,626.4 279.0,626.4 278.0,626.3 277.0,626.3 276.0,626.2 275.0,626.2 274.0,626.1 273.0,626.1 272.0,626.0 271.0,626.0 270.0,626.0 269.0,625.9 268.0,625.9 267.0,625.9 266.0,625.8 265.0,625.8 264.0,625.7 263.0,625.7 262.0,625.7 261.0,625.6 260.0,625.6 259.0,625.6 258.0,625.5 257.0,625.5" fill="#fad4d4"/>
<polygon points="362.0,629.2 363.0,628.8 364.0,628.4 365.0,628.0 366.0,627.7 367.0,627.3 368.0,626.9 369.0,626.5 370.0,626.2 371.0,625.8 372.0,625.4 373.0,625.0 374.0,624.7 375.0,624.3 376.0,623.9 377.0,623.4 378.0,623.0 379.0,622.6 380.0,622.1 381.0,621.7 382.0,621.3 383.0,620.9 384.0,620.4 385.0,620.0 386.0,619.6 387.0,619.1 388.0,618.7 389.0,618.3 390.0,618.0 391.0,617.7 392.0,617.4 393.0,617.1 394.0,616.7 395.0,616.4 396.0,616.1 397.0,615.8 398.0,615.5 399.0,615.2 400.0,614.9 401.0,614.6 402.0,614.2 403.0,613.9 404.0,613.6 405.0,613.3 406.0,613.0 407.0,612.7 408.0,612.4 409.0,612.1 410.0,611.7 411.0,611.5 412.0,611.2 413.0,611.0 414.0,610.8 415.0,610.5 416.0,610.3 417.0,610.1 418.0,609.8 419.0,609.6 420.0,609.4 421.0,609.2 422.0,608.9 423.0,608.7 424.0,608.5 425.0,608.2 426.0,608.0 427.0,607.8 428.0,607.5 429.0,607.3 430.0,607.1 431.0,606.9 432.0,606.6 433.0,606.4 434.0,606.3 435.0,606.3 436.0,606.2 437.0,606.2 438.0,606.1 439.0,606.1 440.0,606.0 441.0,606.0 442.0,605.9 443.0,605.9 444.0,605.8 445.0,605.8 446.0,605.7 447.0,605.7 448.0,605.6 449.0,605.4 450.0,605.2 451.0,605.0 452.0,604.8 453.0,604.6 454.0,604.3 455.0,604.1 456.0,603.9 457.0,603.7 458.0,603.5 459.0,603.2 460.0,603.0 461.0,602.8 462.0,602.6 463.0,602.4 464.0,602.2 465.0,602.0 466.0,601.9 467.0,601.7 468.0,601.6 469.0,601.4 470.0,601.3 471.0,601.2 472.0,601.0 473.0,600.9 474.0,600.7 475.0,600.6 476.0,600.3 477.0,599.9 478.0,599.5 479.0,599.0 480.0,598.6 481.0,598.2 482.0,597.7 483.0,597.3 484.0,596.9 485.0,596.4 486.0,596.0 487.0,595.6 488.0,595.2 489.0,595.0 490.0,594.8 491.0,594.5 492.0,594.3 493.0,594.1 494.0,593.9 495.0,593.6 496.0,593.4 497.0,593.2 498.0,593.0 499.0,592.7 500.0,592.5 501.0,592.2 502.0,592.0 503.0,591.7 504.0,591.5 505.0,591.2 506.0,591.0 507.0,590.7 508.0,590.5 509.0,590.3 510.0,590.0 511.0,589.8 512.0,589.5 513.0,589.3 514.0,589.0 515.0,588.8 516.0,588.7 517.0,588.5 518.0,588.3 519.0,588.1 520.0,587.9 521.0,587.7 522.0,587.6 523.0,587.4 524.0,587.2 525.0,587.0 526.0,586.8 527.0,586.7 528.0,586.5 529.0,586.3 530.0,586.1 531.0,585.9 532.0,585.8 533.0,585.7 534.0,585.6 535.0,585.5 536.0,585.4 537.0,585.2 538.0,585.1 539.0,585.0 540.0,584.9 541.0,584.8 542.0,584.7 543.0,584.6 544.0,584.4 545.0,584.3 546.0,584.2 547.0,584.1 548.0,584.0 549.0,583.9 550.0,583.8 551.0,583.6 552.0,583.5 553.0,583.4 554.0,583.3 555.0,583.2 556.0,583.1 557.0,583.0 558.0,582.9 559.0,582.8 560.0,582.8 561.0,582.7 562.0,582.6 563.0,582.6 564.0,582.5 565.0,582.4 566.0,582.4 567.0,582.3 568.0,582.2 569.0,582.2 570.0,582.1 571.0,582.1 572.0,582.0 573.0,581.9 574.0,581.9 575.0,581.8 576.0,581.7 577.0,581.7 578.0,581.6 579.0,581.5 580.0,581.5 581.0,581.4 582.0,581.3 583.0,581.3 584.0,581.2 585.0,581.2 586.0,581.1 587.0,581.0 588.0,581.0 589.0,580.9 590.0,580.9 591.0,580.8 592.0,580.8 593.0,580.7 594.0,580.7 595.0,580.6 596.0,580.5 597.0,580.5 598.0,580.4 599.0,580.4 600.0,580.3 601.0,580.3 602.0,580.2 603.0,580.2 604.0,580.1 605.0,580.0 606.0,580.0 607.0,579.9 608.0,579.9 609.0,579.8 610.0,579.8 611.0,579.7 612.0,579.7 613.0,579.6 614.0,579.6 615.0,579.6 616.0,579.6 617.0,579.6 618.0,579.6 619.0,579.6 620.0,579.6 621.0,579.6 622.0,579.6 623.0,579.6 624.0,579.6 625.0,579.6 626.0,579.6 627.0,579.6 628.0,579.6 629.0,579.6 630.0,579.6 631.0,579.6 632.0,579.6 633.0,579.6 634.0,579.6 635.0,579.6 636.0,579.6 637.0,579.6 638.0,579.6 639.0,579.6 640.0,579.6 641.0,579.6 642.0,579.6 643.0,579.6 644.0,579.5 645.0,579.2 646.0,578.9 647.0,578.6 648.0,578.2 649.0,577.9 650.0,577.6 651.0,577.3 652.0,577.0 653.0,576.7 654.0,576.3 655.0,576.0 656.0,575.7 657.0,575.4 658.0,575.2 659.0,575.0 660.0,574.8 661.0,574.6 662.0,574.4 663.0,574.3 664.0,574.1 665.0,573.9 666.0,573.7 667.0,573.5 668.0,573.3 669.0,573.2 670.0,573.0 671.0,572.8 672.0,572.7 673.0,572.7 674.0,572.6 675.0,572.6 676.0,572.5 677.0,572.5 678.0,572.4 679.0,572.4 680.0,572.3 681.0,572.3 682.0,572.2 683.0,572.2 684.0,572.1 685.0,572.1 686.0,572.0 687.0,572.0 688.0,571.9 689.0,571.8 690.0,571.8 691.0,571.7 692.0,571.7 693.0,571.6 694.0,571.6 695.0,571.5 696.0,571.5 697.0,571.4 698.0,571.4 699.0,571.3 700.0,571.4 701.0,571.5 702.0,571.6 703.0,571.8 704.0,571.9 705.0,572.0 706.0,572.2 707.0,572.3 708.0,572.4 709.0,572.6 710.0,572.6 711.0,572.6 712.0,572.6 713.0,572.6 714.0,572.6 715.0,572.6 716.0,572.6 717.0,572.6 718.0,572.6 719.0,572.6 720.0,572.6 721.0,572.6 722.0,572.6 723.0,572.6 724.0,572.6 725.0,572.6 726.0,572.6 727.0,572.6 728.0,572.6 729.0,572.6 730.0,572.6 731.0,572.6 732.0,572.6 733.0,572.6 734.0,572.6 735.0,572.6 736.0,572.6 737.0,572.6 738.0,572.6 739.0,572.6 740.0,572.6 741.0,572.6 742.0,572.6 743.0,572.6 744.0,572.6 745.0,572.6 746.0,572.6 747.0,572.6 748.0,572.6 749.0,572.6 750.0,572.6 751.0,572.6 752.0,572.6 753.0,572.6 754.0,572.6 755.0,572.6 756.0,572.6 757.0,572.6 758.0,572.6 759.0,572.5 760.0,572.4 761.0,572.3 762.0,572.2 763.0,572.1 764.0,572.0 765.0,571.9 766.0,571.7 767.0,571.6 768.0,571.5 769.0,571.4 770.0,571.3 771.0,571.0 772.0,570.8 773.0,570.5 774.0,570.3 775.0,570.0 776.0,569.8 777.0,569.5 778.0,569.3 779.0,569.0 780.0,568.7 781.0,568.5 782.0,568.2 783.0,568.0 784.0,567.7 785.0,567.5 786.0,567.2 787.0,567.0 788.0,566.7 789.0,566.6 790.0,566.5 791.0,566.3 792.0,566.2 793.0,566.0 794.0,565.9 795.0,565.7 796.0,565.6 797.0,565.4 798.0,565.3 799.0,565.2 800.0,565.0 801.0,564.9 802.0,564.7 803.0,564.6 804.0,564.4 805.0,564.3 806.0,564.1 807.0,564.0 808.0,563.9 809.0,563.7 810.0,563.6 811.0,563.4 812.0,563.3 813.0,563.3 814.0,563.2 815.0,563.1 816.0,563.1 817.0,563.0 818.0,562.9 819.0,562.9 820.0,562.8 821.0,562.7 822.0,562.7 823.0,562.6 824.0,562.5 825.0,562.4 826.0,562.4 827.0,562.3 828.0,562.2 829.0,562.2 830.0,562.1 831.0,562.0 832.0,562.0 833.0,561.9 834.0,561.8 835.0,561.7 836.0,561.7 837.0,561.6 838.0,561.5 839.0,561.5 840.0,561.6 841.0,561.6 842.0,561.7 843.0,561.8 844.0,561.8 845.0,561.9 846.0,562.0 847.0,562.0 848.0,562.1 849.0,562.1 850.0,562.2 851.0,562.3 852.0,562.3 853.0,562.4 854.0,562.5 855.0,562.5 856.0,562.6 857.0,562.6 858.0,562.7 859.0,562.8 860.0,562.8 861.0,562.9 862.0,562.9 863.0,563.0 864.0,563.1 865.0,563.1 866.0,563.2 867.0,563.3 868.0,563.4 869.0,563.6 870.0,563.7 871.0,563.8 872.0,564.0 873.0,564.1 874.0,564.2 875.0,564.3 876.0,564.5 877.0,564.6 878.0,564.7 879.0,564.8 880.0,565.0 881.0,565.1 882.0,565.2 883.0,565.2 884.0,565.2 885.0,565.2 886.0,565.2 887.0,565.3 888.0,565.3 889.0,565.3 890.0,565.3 891.0,565.3 892.0,565.3 893.0,565.3 894.0,565.3 895.0,565.3 896.0,565.3 897.0,565.3 898.0,565.4 899.0,565.4 900.0,565.4 901.0,565.4 902.0,565.4 903.0,565.4 904.0,565.4 905.0,565.4 906.0,565.4 907.0,565.4 908.0,565.5 909.0,565.5 910.0,565.5 911.0,565.5 912.0,565.5 913.0,565.5 914.0,565.5 915.0,565.5 916.0,565.5 917.0,565.5 918.0,565.5 919.0,565.6 920.0,565.6 921.0,565.6 922.0,565.6 923.0,565.6 924.0,565.7 925.0,565.7 926.0,565.8 927.0,565.9 928.0,566.0 929.0,566.1 930.0,566.2 931.0,566.3 932.0,566.3 933.0,566.4 933.0,566.5 932.0,566.4 931.0,566.4 930.0,566.4 929.0,566.4 928.0,566.3 927.0,566.3 926.0,566.3 925.0,566.3 924.0,566.2 923.0,566.2 922.0,566.2 921.0,566.2 920.0,566.1 919.0,566.1 918.0,566.1 917.0,566.1 916.0,566.0 915.0,566.0 914.0,566.0 913.0,566.0 912.0,565.9 911.0,565.9 910.0,565.9 909.0,565.9 908.0,565.8 907.0,565.8 906.0,565.8 905.0,565.8 904.0,565.7 903.0,565.7 902.0,565.7 901.0,565.7 900.0,565.6 899.0,565.6 898.0,565.6 897.0,565.6 896.0,565.6 895.0,565.5 894.0,565.5 893.0,565.5 892.0,565.5 891.0,565.4 890.0,565.4 889.0,565.4 888.0,565.4 887.0,565.3 886.0,565.3 885.0,565.3 884.0,565.3 883.0,565.2 882.0,565.2 881.0,565.2 880.0,565.2 879.0,565.1 878.0,565.1 877.0,565.1 876.0,565.1 875.0,565.0 874.0,565.0 873.0,565.0 872.0,565.0 871.0,564.9 870.0,564.9 869.0,564.9 868.0,564.8 867.0,564.8 866.0,564.8 865.0,564.9 864.0,564.9 863.0,565.0 862.0,565.0 861.0,565.1 860.0,565.1 859.0,565.2 858.0,565.2 857.0,565.3 856.0,565.3 855.0,565.4 854.0,565.4 853.0,565.5 852.0,565.5 851.0,565.6 850.0,565.6 849.0,565.7 848.0,565.7 847.0,565.8 846.0,565.8 845.0,565.9 844.0,565.9 843.0,566.0 842.0,566.0 841.0,566.1 840.0,566.1 839.0,566.2 838.0,566.3 837.0,566.4 836.0,566.5 835.0,566.6 834.0,566.7 833.0,566.8 832.0,566.9 831.0,567.0 830.0,567.1 829.0,567.2 828.0,567.2 827.0,567.3 826.0,567.4 825.0,567.5 824.0,567.6 823.0,567.7 822.0,567.8 821.0,567.9 820.0,568.0 819.0,568.1 818.0,568.2 817.0,568.3 816.0,568.4 815.0,568.5 814.0,568.6 813.0,568.7 812.0,568.8 811.0,568.9 810.0,569.0 809.0,569.1 808.0,569.2 807.0,569.3 806.0,569.4 805.0,569.5 804.0,569.6 803.0,569.7 802.0,569.8 801.0,569.9 800.0,570.0 799.0,570.1 798.0,570.2 797.0,570.3 796.0,570.4 795.0,570.5 794.0,570.6 793.0,570.6 792.0,570.7 791.0,570.8 790.0,570.9 789.0,571.0 788.0,571.1 787.0,571.2 786.0,571.3 785.0,571.4 784.0,571.5 783.0,571.6 782.0,571.7 781.0,571.8 780.0,571.9 779.0,572.0 778.0,572.1 777.0,572.2 776.0,572.2 775.0,572.3 774.0,572.4 773.0,572.5 772.0,572.6 771.0,572.7 770.0,572.8 769.0,572.9 768.0,573.0 767.0,573.0 766.0,573.1 765.0,573.1 764.0,573.2 763.0,573.2 762.0,573.2 761.0,573.3 760.0,573.3 759.0,573.4 758.0,573.4 757.0,573.4 756.0,573.5 755.0,573.5 754.0,573.6 753.0,573.6 752.0,573.7 751.0,573.7 750.0,573.7 749.0,573.8 748.0,573.8 747.0,573.9 746.0,573.9 745.0,573.9 744.0,574.0 743.0,574.0 742.0,574.1 741.0,574.1 740.0,574.1 739.0,574.2 738.0,574.2 737.0,574.3 736.0,574.3 735.0,574.3 734.0,574.4 733.0,574.4 732.0,574.5 731.0,574.5 730.0,574.6 729.0,574.6 728.0,574.7 727.0,574.7 726.0,574.8 725.0,574.9 724.0,575.0 723.0,575.0 722.0,575.1 721.0,575.2 720.0,575.3 719.0,575.3 718.0,575.4 717.0,575.5 716.0,575.5 715.0,575.6 714.0,575.7 713.0,575.8 712.0,575.8 711.0,575.9 710.0,576.0 709.0,576.1 708.0,576.1 707.0,576.2 706.0,576.3 705.0,576.4 704.0,576.4 703.0,576.5 702.0,576.6 701.0,576.7 700.0,576.7 699.0,576.8 698.0,576.9 697.0,577.0 696.0,577.0 695.0,577.1 694.0,577.2 693.0,577.2 692.0,577.3 691.0,577.4 690.0,577.5 689.0,577.6 688.0,577.7 687.0,577.9 686.0,578.0 685.0,578.1 684.0,578.3 683.0,578.4 682.0,578.5 681.0,578.7 680.0,578.8 679.0,578.9 678.0,579.0 677.0,579.2 676.0,579.3 675.0,579.4 674.0,579.5 673.0,579.6 672.0,579.8 671.0,579.9 670.0,580.0 669.0,580.1 668.0,580.2 667.0,580.3 666.0,580.5 665.0,580.6 664.0,580.7 663.0,580.8 662.0,580.9 661.0,581.1 660.0,581.2 659.0,581.3 658.0,581.4 657.0,581.4 656.0,581.5 655.0,581.6 654.0,581.6 653.0,581.7 652.0,581.8 651.0,581.8 650.0,581.9 649.0,582.0 648.0,582.0 647.0,582.1 646.0,582.2 645.0,582.2 644.0,582.3 643.0,582.4 642.0,582.4 641.0,582.5 640.0,582.6 639.0,582.6 638.0,582.7 637.0,582.8 636.0,582.8 635.0,582.9 634.0,583.0 633.0,583.1 632.0,583.2 631.0,583.3 630.0,583.4 629.0,583.5 628.0,583.6 627.0,583.7 626.0,583.8 625.0,584.0 624.0,584.1 623.0,584.2 622.0,584.3 621.0,584.4 620.0,584.5 619.0,584.6 618.0,584.8 617.0,584.9 616.0,585.0 615.0,585.1 614.0,585.2 613.0,585.3 612.0,585.4 611.0,585.5 610.0,585.7 609.0,585.8 608.0,585.9 607.0,586.0 606.0,586.1 605.0,586.3 604.0,586.4 603.0,586.5 602.0,586.6 601.0,586.7 600.0,586.9 599.0,587.0 598.0,587.1 597.0,587.2 596.0,587.3 595.0,587.5 594.0,587.6 593.0,587.7 592.0,587.8 591.0,587.9 590.0,588.1 589.0,588.2 588.0,588.3 587.0,588.4 586.0,588.6 585.0,588.7 584.0,588.8 583.0,588.9 582.0,589.0 581.0,589.2 580.0,589.4 579.0,589.5 578.0,589.7 577.0,589.9 576.0,590.0 575.0,590.2 574.0,590.4 573.0,590.5 572.0,590.7 571.0,590.9 570.0,591.0 569.0,591.2 568.0,591.3 567.0,591.5 566.0,591.7 565.0,591.8 564.0,592.0 563.0,592.2 562.0,592.3 561.0,592.5 560.0,592.7 559.0,592.8 558.0,593.0 557.0,593.2 556.0,593.3 555.0,593.5 554.0,593.8 553.0,594.0 552.0,594.2 551.0,594.4 550.0,594.6 549.0,594.8 548.0,595.0 547.0,595.2 546.0,595.4 545.0,595.6 544.0,595.8 543.0,596.0 542.0,596.2 541.0,596.4 540.0,596.6 539.0,596.8 538.0,597.0 537.0,597.2 536.0,597.4 535.0,597.6 534.0,597.8 533.0,598.0 532.0,598.2 531.0,598.4 530.0,598.6 529.0,598.8 528.0,599.0 527.0,599.2 526.0,599.4 525.0,599.6 524.0,599.8 523.0,600.0 522.0,600.2 521.0,600.4 520.0,600.6 519.0,600.8 518.0,601.0 517.0,601.2 516.0,601.4 515.0,601.6 514.0,601.8 513.0,602.0 512.0,602.2 511.0,602.4 510.0,602.6 509.0,602.8 508.0,603.0 507.0,603.2 506.0,603.4 505.0,603.6 504.0,603.8 503.0,604.0 502.0,604.2 501.0,604.4 500.0,604.6 499.0,604.9 498.0,605.1 497.0,605.3 496.0,605.5 495.0,605.7 494.0,605.9 493.0,606.1 492.0,606.3 491.0,606.5 490.0,606.7 489.0,606.9 488.0,607.1 487.0,607.3 486.0,607.5 485.0,607.7 484.0,607.9 483.0,608.1 482.0,608.3 481.0,608.5 480.0,608.8 479.0,609.0 478.0,609.2 477.0,609.4 476.0,609.6 475.0,609.8 474.0,610.0 473.0,610.2 472.0,610.4 471.0,610.6 470.0,610.8 469.0,611.0 468.0,611.1 467.0,611.3 466.0,611.5 465.0,611.6 464.0,611.8 463.0,612.0 462.0,612.1 461.0,612.3 460.0,612.5 459.0,612.6 458.0,612.8 457.0,613.0 456.0,613.1 455.0,613.3 454.0,613.5 453.0,613.6 452.0,613.8 451.0,614.0 450.0,614.1 449.0,614.3 448.0,614.5 447.0,614.6 446.0,614.8 445.0,615.0 444.0,615.1 443.0,615.3 442.0,615.4 441.0,615.6 440.0,615.7 439.0,615.9 438.0,616.1 437.0,616.2 436.0,616.4 435.0,616.5 434.0,616.7 433.0,616.8 432.0,617.0 431.0,617.1 430.0,617.3 429.0,617.4 428.0,617.6 427.0,617.7 426.0,617.9 425.0,618.0 424.0,618.2 423.0,618.3 422.0,618.5 421.0,618.7 420.0,618.8 419.0,619.0 418.0,619.2 417.0,619.4 416.0,619.6 415.0,619.8 414.0,620.0 413.0,620.2 412.0,620.5 411.0,620.7 410.0,620.9 409.0,621.1 408.0,621.3 407.0,621.5 406.0,621.7 405.0,621.9 404.0,622.1 403.0,622.4 402.0,622.6 401.0,622.8 400.0,623.0 399.0,623.2 398.0,623.4 397.0,623.6 396.0,623.8 395.0,624.0 394.0,624.3 393.0,624.4 392.0,624.6 391.0,624.8 390.0,624.9 389.0,625.1 388.0,625.3 387.0,625.4 386.0,625.6 385.0,625.8 384.0,625.9 383.0,626.1 382.0,626.3 381.0,626.5 380.0,626.6 379.0,626.8 378.0,627.0 377.0,627.1 376.0,627.3 375.0,627.5 374.0,627.6 373.0,627.8 372.0,628.0 371.0,628.1 370.0,628.3 369.0,628.5 368.0,628.6 367.0,628.7 366.0,628.9 365.0,629.0 364.0,629.1 363.0,629.2 362.0,629.3" fill="#d9f7d9"/>
<polygon points="934.0,566.5 935.0,566.6 936.0,566.7 937.0,566.8 938.0,566.9 939.0,566.9 940.0,567.0 941.0,567.1 942.0,567.2 943.0,567.3 944.0,567.4 945.0,567.5 946.0,567.6 947.0,567.6 948.0,567.7 949.0,567.8 950.0,567.9 951.0,568.0 952.0,568.1 953.0,568.2 954.0,568.2 955.0,568.3 956.0,568.4 957.0,568.5 958.0,568.6 959.0,568.7 960.0,568.9 961.0,569.1 962.0,569.2 963.0,569.4 964.0,569.6 965.0,569.7 966.0,569.9 967.0,570.1 968.0,570.2 969.0,570.4 970.0,570.6 971.0,570.7 972.0,570.9 973.0,571.1 974.0,571.2 975.0,571.4 976.0,571.6 977.0,571.7 978.0,571.9 979.0,572.1 980.0,572.2 981.0,572.4 982.0,572.6 983.0,572.7 984.0,572.9 985.0,573.1 986.0,573.2 987.0,573.4 988.0,573.6 989.0,573.7 990.0,573.9 991.0,574.1 992.0,574.2 993.0,574.4 994.0,574.5 995.0,574.7 996.0,574.8 997.0,574.9 998.0,575.1 999.0,575.2 1000.0,575.3 1001.0,575.5 1002.0,575.6 1003.0,575.7 1004.0,575.9 1005.0,576.0 1006.0,576.1 1007.0,576.3 1008.0,576.4 1009.0,576.5 1010.0,576.7 1011.0,576.8 1012.0,576.9 1013.0,577.1 1014.0,577.2 1015.0,577.3 1016.0,577.5 1017.0,577.6 1018.0,577.8 1019.0,577.9 1020.0,578.0 1021.0,578.2 1022.0,578.3 1023.0,578.4 1024.0,578.6 1025.0,578.7 1026.0,578.8 1027.0,579.0 1028.0,579.1 1029.0,579.2 1030.0,579.3 1031.0,579.4 1032.0,579.5 1033.0,579.6 1034.0,579.7 1035.0,579.8 1036.0,579.9 1037.0,580.0 1038.0,580.1 1039.0,580.2 1040.0,580.3 1041.0,580.4 1042.0,580.5 1043.0,580.6 1044.0,580.7 1045.0,580.8 1046.0,580.9 1047.0,581.0 1048.0,581.1 1049.0,581.2 1050.0,581.3 1051.0,581.4 1052.0,581.5 1053.0,581.6 1054.0,581.7 1055.0,581.8 1056.0,581.9 1057.0,582.0 1058.0,582.1 1059.0,582.2 1060.0,582.3 1061.0,582.4 1062.0,582.5 1063.0,582.6 1064.0,582.8 1065.0,583.0 1066.0,583.1 1067.0,583.3 1068.0,583.5 1069.0,583.6 1070.0,583.8 1071.0,584.0 1072.0,584.2 1073.0,584.3 1074.0,584.5 1075.0,584.7 1076.0,584.9 1077.0,585.0 1078.0,585.2 1079.0,585.4 1080.0,585.5 1081.0,585.7 1082.0,585.9 1083.0,586.1 1084.0,586.2 1085.0,586.4 1086.0,586.6 1087.0,586.7 1088.0,586.9 1089.0,587.1 1090.0,587.3 1091.0,587.4 1092.0,587.6 1093.0,587.8 1094.0,587.9 1094.0,581.0 1093.0,580.9 1092.0,580.7 1091.0,580.6 1090.0,580.5 1089.0,580.4 1088.0,580.3 1087.0,580.2 1086.0,580.1 1085.0,580.0 1084.0,579.9 1083.0,579.7 1082.0,579.6 1081.0,579.5 1080.0,579.4 1079.0,579.3 1078.0,579.2 1077.0,579.1 1076.0,579.0 1075.0,578.8 1074.0,578.7 1073.0,578.6 1072.0,578.5 1071.0,578.4 1070.0,578.3 1069.0,578.2 1068.0,578.1 1067.0,578.0 1066.0,577.8 1065.0,577.7 1064.0,577.6 1063.0,577.5 1062.0,577.4 1061.0,577.3 1060.0,577.2 1059.0,577.2 1058.0,577.1 1057.0,577.0 1056.0,576.9 1055.0,576.8 1054.0,576.7 1053.0,576.6 1052.0,576.5 1051.0,576.4 1050.0,576.4 1049.0,576.3 1048.0,576.2 1047.0,576.1 1046.0,576.0 1045.0,575.9 1044.0,575.8 1043.0,575.7 1042.0,575.6 1041.0,575.6 1040.0,575.5 1039.0,575.4 1038.0,575.3 1037.0,575.2 1036.0,575.1 1035.0,575.0 1034.0,574.9 1033.0,574.8 1032.0,574.8 1031.0,574.7 1030.0,574.6 1029.0,574.5 1028.0,574.4 1027.0,574.3 1026.0,574.2 1025.0,574.1 1024.0,574.0 1023.0,573.9 1022.0,573.8 1021.0,573.7 1020.0,573.6 1019.0,573.5 1018.0,573.4 1017.0,573.3 1016.0,573.2 1015.0,573.1 1014.0,573.0 1013.0,572.9 1012.0,572.8 1011.0,572.7 1010.0,572.6 1009.0,572.5 1008.0,572.4 1007.0,572.3 1006.0,572.2 1005.0,572.1 1004.0,572.0 1003.0,571.9 1002.0,571.8 1001.0,571.7 1000.0,571.6 999.0,571.5 998.0,571.4 997.0,571.3 996.0,571.2 995.0,571.1 994.0,571.0 993.0,570.9 992.0,570.8 991.0,570.7 990.0,570.6 989.0,570.5 988.0,570.5 987.0,570.4 986.0,570.3 985.0,570.2 984.0,570.1 983.0,570.0 982.0,569.9 981.0,569.8 980.0,569.7 979.0,569.7 978.0,569.6 977.0,569.5 976.0,569.4 975.0,569.3 974.0,569.2 973.0,569.1 972.0,569.0 971.0,569.0 970.0,568.9 969.0,568.8 968.0,568.7 967.0,568.6 966.0,568.5 965.0,568.4 964.0,568.3 963.0,568.2 962.0,568.2 961.0,568.1 960.0,568.0 959.0,567.9 958.0,567.8 957.0,567.7 956.0,567.6 955.0,567.5 954.0,567.5 953.0,567.4 952.0,567.3 951.0,567.2 950.0,567.1 949.0,567.0 948.0,566.9 947.0,566.8 946.0,566.8 945.0,566.8 944.0,566.7 943.0,566.7 942.0,566.7 941.0,566.7 940.0,566.6 939.0,566.6 938.0,566.6 937.0,566.6 936.0,566.5 935.0,566.5 934.0,566.5" fill="#fad4d4"/>
<g stroke-width="1">
<rect x="3.5" y="611.5" width="12" height="8" fill="url(#gR)" stroke="#a82a2a"/>
<rect x="17.5" y="611.5" width="12" height="8" fill="url(#gR)" stroke="#a82a2a"/>
<rect x="31.5" y="611.5" width="12" height="8" fill="url(#gR)" stroke="#a82a2a"/>
<rect x="45.5" y="611.5" width="12" height="8" fill="url(#gR)" stroke="#a82a2a"/>
<rect x="59.5" y="611.5" width="12" height="10" fill="url(#gR)" stroke="#a82a2a"/>
<rect x="73.5" y="611.5" width="12" height="9" fill="url(#gR)" stroke="#a82a2a"/>
<rect x="87.5" y="611.5" width="12" height="8" fill="url(#gR)" stroke="#a82a2a"/>
<rect x="102.5" y="611.5" width="12" height="5" fill="url(#gR)" stroke="#a82a2a"/>
<rect x="116.5" y="611.5" width="12" height="3" fill="url(#gR)" stroke="#a82a2a"/>
<rect x="130.5" y="610.5" width="12" height="1" fill="url(#gG)" stroke="#168a16"/>
<rect x="144.5" y="608.5" width="12" height="3" fill="url(#gG)" stroke="#168a16"/>
<rect x="158.5" y="607.5" width="12" height="4" fill="url(#gG)" stroke="#168a16"/>
<rect x="172.5" y="607.5" width="12" height="4" fill="url(#gG)" stroke="#168a16"/>
<rect x="186.5" y="605.5" width="12" height="6" fill="url(#gG)" stroke="#168a16"/>
<rect x="200.5" y="604.5" width="12" height="7" fill="url(#gG)" stroke="#168a16"/>
<rect x="214.5" y="606.5" width="12" height="5" fill="url(#gG)" stroke="#168a16"/>
<rect x="228.5" y="607.5" width="12" height="4" fill="url(#gG)" stroke="#168a16"/>
<rect x="242.5" y="610.5" width="12" height="1" fill="url(#gG)" stroke="#168a16"/>
<rect x="257.5" y="611.5" width="12" height="1" fill="url(#gR)" stroke="#a82a2a"/>
<rect x="271.5" y="611.5" width="12" height="1" fill="url(#gR)" stroke="#a82a2a"/>
<rect x="285.5" y="611.5" width="12" height="3" fill="url(#gR)" stroke="#a82a2a"/>
<rect x="299.5" y="611.5" width="12" height="3" fill="url(#gR)" stroke="#a82a2a"/>
<rect x="313.5" y="611.5" width="12" height="5" fill="url(#gR)" stroke="#a82a2a"/>
<rect x="327.5" y="611.5" width="12" height="5" fill="url(#gR)" stroke="#a82a2a"/>
<rect x="341.5" y="611.5" width="12" height="3" fill="url(#gR)" stroke="#a82a2a"/>
<rect x="369.5" y="606.5" width="12" height="5" fill="url(#gG)" stroke="#168a16"/>
<rect x="383.5" y="603.5" width="12" height="8" fill="url(#gG)" stroke="#168a16"/>
<rect x="397.5" y="601.5" width="12" height="10" fill="url(#gG)" stroke="#168a16"/>
<rect x="412.5" y="600.5" width="12" height="11" fill="url(#gG)" stroke="#168a16"/>
<rect x="426.5" y="600.5" width="12" height="11" fill="url(#gG)" stroke="#168a16"/>
<rect x="440.5" y="601.5" width="12" height="10" fill="url(#gG)" stroke="#168a16"/>
<rect x="454.5" y="601.5" width="12" height="10" fill="url(#gG)" stroke="#168a16"/>
<rect x="468.5" y="601.5" width="12" height="10" fill="url(#gG)" stroke="#168a16"/>
<rect x="482.5" y="599.5" width="12" height="12" fill="url(#gG)" stroke="#168a16"/>
<rect x="496.5" y="598.5" width="12" height="13" fill="url(#gG)" stroke="#168a16"/>
<rect x="510.5" y="598.5" width="12" height="13" fill="url(#gG)" stroke="#168a16"/>
<rect x="524.5" y="599.5" width="12" height="12" fill="url(#gG)" stroke="#168a16"/>
<rect x="538.5" y="600.5" width="12" height="11" fill="url(#gG)" stroke="#168a16"/>
<rect x="552.5" y="601.5" width="12" height="10" fill="url(#gG)" stroke="#168a16"/>
<rect x="567.5" y="602.5" width="12" height="9" fill="url(#gG)" stroke="#168a16"/>
<rect x="581.5" y="604.5" width="12" height="7" fill="url(#gG)" stroke="#168a16"/>
<rect x="595.5" y="604.5" width="12" height="7" fill="url(#gG)" stroke="#168a16"/>
<rect x="609.5" y="605.5" width="12" height="6" fill="url(#gG)" stroke="#168a16"/>
<rect x="623.5" y="606.5" width="12" height="5" fill="url(#gG)" stroke="#168a16"/>
<rect x="637.5" y="606.5" width="12" height="5" fill="url(#gG)" stroke="#168a16"/>
<rect x="651.5" y="605.5" width="12" height="6" fill="url(#gG)" stroke="#168a16"/>
<rect x="665.5" y="604.5" width="12" height="7" fill="url(#gG)" stroke="#168a16"/>
<rect x="679.5" y="604.5" width="12" height="7" fill="url(#gG)" stroke="#168a16"/>
<rect x="693.5" y="606.5" width="12" height="5" fill="url(#gG)" stroke="#168a16"/>
<rect x="707.5" y="607.5" width="12" height="4" fill="url(#gG)" stroke="#168a16"/>
<rect x="722.5" y="608.5" width="12" height="3" fill="url(#gG)" stroke="#168a16"/>
<rect x="736.5" y="609.5" width="12" height="2" fill="url(#gG)" stroke="#168a16"/>
<rect x="750.5" y="609.5" width="12" height="2" fill="url(#gG)" stroke="#168a16"/>
<rect x="764.5" y="608.5" width="12" height="3" fill="url(#gG)" stroke="#168a16"/>
<rect x="778.5" y="606.5" width="12" height="5" fill="url(#gG)" stroke="#168a16"/>
<rect x="792.5" y="605.5" width="12" height="6" fill="url(#gG)" stroke="#168a16"/>
<rect x="806.5" y="605.5" width="12" height="6" fill="url(#gG)" stroke="#168a16"/>
<rect x="820.5" y="605.5" width="12" height="6" fill="url(#gG)" stroke="#168a16"/>
<rect x="834.5" y="605.5" width="12" height="6" fill="url(#gG)" stroke="#168a16"/>
<rect x="848.5" y="608.5" width="12" height="3" fill="url(#gG)" stroke="#168a16"/>
<rect x="862.5" y="609.5" width="12" height="2" fill="url(#gG)" stroke="#168a16"/>
<rect x="876.5" y="610.5" width="12" height="1" fill="url(#gG)" stroke="#168a16"/>
<rect x="919.5" y="611.5" width="12" height="1" fill="url(#gR)" stroke="#a82a2a"/>
<rect x="933.5" y="611.5" width="12" height="1" fill="url(#gR)" stroke="#a82a2a"/>
<rect x="947.5" y="611.5" width="12" height="3" fill="url(#gR)" stroke="#a82a2a"/>
<rect x="961.5" y="611.5" width="12" height="5" fill="url(#gR)" stroke="#a82a2a"/>
<rect x="975.5" y="611.5" width="12" height="6" fill="url(#gR)" stroke="#a82a2a"/>
<rect x="989.5" y="611.5" width="12" height="6" fill="url(#gR)" stroke="#a82a2a"/>
<rect x="1003.5" y="611.5" width="12" height="6" fill="url(#gR)" stroke="#a82a2a"/>
<rect x="1017.5" y="611.5" width="12" height="7" fill="url(#gR)" stroke="#a82a2a"/>
<rect x="1031.5" y="611.5" width="12" height="7" fill="url(#gR)" stroke="#a82a2a"/>
<rect x="1046.5" y="611.5" width="12" height="7" fill="url(#gR)" stroke="#a82a2a"/>
<rect x="1060.5" y="611.5" width="12" height="7" fill="url(#gR)" stroke="#a82a2a"/>
<rect x="1074.5" y="611.5" width="12" height="7" fill="url(#gR)" stroke="#a82a2a"/>
<rect x="1088.5" y="611.5" width="12" height="7" fill="url(#gR)" stroke="#a82a2a"/>
</g>
<line x1="1" y1="611.5" x2="1127" y2="611.5" stroke="#2424e0" stroke-width="1.6"/>
<path d="M0.0,620.3 C5.7,621.1 22.7,623.4 34.1,625.0 C45.5,626.6 58.2,628.8 68.2,630.1 C78.2,631.4 85.3,632.0 93.8,632.6 C102.3,633.2 110.9,633.5 119.4,633.5 C127.9,633.5 136.4,632.6 144.9,632.3 C153.4,632.0 160.4,632.4 170.5,631.8 C180.6,631.1 195.5,629.4 205.6,628.4 C215.7,627.4 223.5,626.0 231.2,625.5 C238.9,625.0 244.5,625.2 251.6,625.3 C258.7,625.4 265.8,625.7 273.8,626.1 C281.8,626.5 290.9,627.0 299.4,627.5 C307.9,628.0 316.3,628.4 324.9,628.9 C333.5,629.4 344.0,630.6 351.2,630.6 C358.4,630.6 361.1,629.7 368.2,628.6 C375.3,627.5 385.3,625.9 393.8,624.3 C402.3,622.7 410.9,620.4 419.4,618.9 C427.9,617.4 436.4,616.4 444.9,615.0 C453.4,613.6 460.4,612.6 470.5,610.7 C480.6,608.8 495.5,605.5 505.6,603.5 C515.7,601.5 522.7,600.1 531.2,598.4 C539.7,596.7 548.2,594.8 556.7,593.2 C565.2,591.6 573.8,590.2 582.3,589.0 C590.8,587.8 599.4,586.9 607.9,585.9 C616.4,584.9 625.0,583.8 633.5,583.0 C642.0,582.2 651.2,582.0 659.0,581.3 C666.8,580.6 674.9,579.4 680.0,578.8 C685.1,578.2 681.5,578.2 689.6,577.5 C697.7,576.8 715.7,575.4 728.8,574.6 C741.9,573.9 754.9,573.9 768.0,573.0 C781.1,572.1 795.5,570.4 807.3,569.3 C819.1,568.2 828.8,567.0 838.6,566.2 C848.4,565.5 858.9,565.0 866.1,564.8 C873.3,564.6 868.4,564.9 881.8,565.2 C895.2,565.5 928.0,565.8 946.6,566.8 C965.2,567.8 979.5,569.6 993.1,570.9 C1006.7,572.2 1016.4,573.3 1028.0,574.4 C1039.6,575.5 1051.9,576.4 1062.9,577.5 C1074.0,578.6 1089.1,580.4 1094.3,581.0" fill="none" stroke="#e06262" stroke-width="1.1"/>
<path d="M0.0,626.1 C3.7,626.7 13.7,628.3 22.2,629.6 C30.7,630.9 44.1,632.7 51.2,634.0 C58.3,635.3 57.7,636.5 64.8,637.4 C71.9,638.3 86.4,639.3 93.8,639.4 C101.2,639.5 103.4,638.7 109.1,637.7 C114.8,636.7 121.4,634.9 127.9,633.5 C134.4,632.1 140.1,630.6 148.3,629.6 C156.5,628.6 167.8,628.6 177.3,627.2 C186.9,625.8 198.1,622.2 205.6,621.2 C213.1,620.2 217.5,621.0 222.6,621.2 C227.7,621.4 230.6,621.7 236.3,622.4 C242.0,623.1 249.0,624.6 256.7,625.5 C264.4,626.4 275.2,627.1 282.3,627.9 C289.4,628.7 293.4,629.2 299.4,630.1 C305.4,631.0 312.3,632.8 318.1,633.3 C323.9,633.8 328.9,633.4 334.1,633.2 C339.3,633.0 344.8,632.6 349.4,632.0 C353.9,631.4 357.1,630.7 361.4,629.4 C365.7,628.1 370.4,626.1 375.0,624.3 C379.6,622.5 382.7,620.5 388.7,618.4 C394.7,616.3 403.4,613.5 410.8,611.5 C418.2,609.5 426.8,607.4 433.0,606.4 C439.2,605.4 443.2,606.3 448.3,605.6 C453.4,604.9 459.1,603.1 463.7,602.2 C468.2,601.4 471.6,601.6 475.6,600.5 C479.6,599.4 484.0,596.5 487.6,595.3 C491.2,594.1 492.6,594.2 497.0,593.2 C501.4,592.2 508.4,590.2 514.1,589.0 C519.8,587.8 524.1,586.9 531.2,585.9 C538.3,584.9 548.2,583.8 556.7,583.0 C565.2,582.2 572.9,581.9 582.3,581.3 C591.7,580.7 602.8,579.9 613.0,579.6 C623.2,579.3 636.3,580.3 643.7,579.6 C651.1,578.9 652.8,576.4 657.3,575.3 C661.8,574.2 664.0,573.5 671.0,572.8 C678.0,572.1 693.0,571.3 699.4,571.3 C705.8,571.3 699.4,572.4 709.2,572.6 C719.0,572.8 748.1,572.8 758.2,572.6 C768.3,572.4 765.1,572.3 770.0,571.3 C774.9,570.3 780.7,568.1 787.6,566.8 C794.5,565.5 802.7,564.3 811.2,563.4 C819.7,562.5 829.5,561.5 838.6,561.5 C847.8,561.5 858.9,562.6 866.1,563.2 C873.3,563.8 872.3,564.8 881.8,565.2 C891.3,565.6 910.6,565.0 923.3,565.6 C936.0,566.2 946.6,567.1 958.2,568.6 C969.8,570.1 981.5,572.6 993.1,574.4 C1004.7,576.1 1016.4,577.7 1028.0,579.1 C1039.6,580.5 1051.9,581.1 1062.9,582.6 C1074.0,584.1 1089.1,587.1 1094.3,588.0" fill="none" stroke="#3636e0" stroke-width="1.25"/>
<line x1="1127" y1="579.5" x2="1132" y2="579.5" stroke="#e06060"/><rect x="1131.5" y="571.5" width="31" height="11.5" fill="#fff" stroke="#8ba1ad"/><text transform="translate(1133,581.7) scale(0.925,1)" font-size="9.7" fill="#e04848" stroke="#e04848" stroke-width="0.22">442.81</text>
<line x1="1127" y1="588.5" x2="1132" y2="588.5" stroke="#3333dd"/><rect x="1131.5" y="583.5" width="31" height="13" fill="#fff" stroke="#8ba1ad"/><text transform="translate(1133,593.6) scale(0.925,1)" font-size="9.7" fill="#3333dd" stroke="#3333dd" stroke-width="0.22">335.09</text>
<text transform="translate(1133.3,614.8) scale(0.925,1)" font-size="9.7" fill="#000" stroke="#000" stroke-width="0.22">0</text>
<line x1="1127" y1="618.5" x2="1132" y2="618.5" stroke="#e06060"/><rect x="1131.5" y="611.5" width="34.5" height="13" fill="#fff" stroke="#8ba1ad"/><text transform="translate(1132.8,621.6) scale(0.925,1)" font-size="9.7" fill="#e04848" stroke="#e04848" stroke-width="0.22">-106.82</text>

<g filter="url(#tsh)" fill="#7ccad8" stroke="#7ccad8" stroke-width="2.2" font-weight="bold" font-style="italic">
<text x="939.4" y="653.6" font-size="33">z</text>
<text x="966.6" y="653.6" font-size="33">z</text>
<text x="993.8" y="653.6" font-size="33">r</text>
<text x="1017" y="653.6" font-size="33">t</text>
<text x="1037.8" y="653.6" font-size="30">0</text>
<text x="1073" y="653.6" font-size="29">1</text>
<text x="1097" y="652.6" font-size="33" stroke-width="3">.</text>
<text x="1116" y="653.6" font-size="31">c</text>
<text x="1140.4" y="653.6" font-size="33">n</text>
</g>

<line x1="1126.5" y1="553" x2="1126.5" y2="643" stroke="#7b95a3"/>
<line x1="0" y1="643.5" x2="1127" y2="643.5" stroke="#7b95a3"/>
<line x1="23.5" y1="643" x2="23.5" y2="647" stroke="#7b95a3"/>
<text transform="translate(22.7,656) scale(0.925,1)" font-size="9.7" fill="#000" stroke="#000" stroke-width="0.22" text-anchor="middle">28</text>
<line x1="51.5" y1="643" x2="51.5" y2="647" stroke="#7b95a3"/>
<text transform="translate(50.7,656) scale(0.925,1)" font-size="9.7" fill="#000" stroke="#000" stroke-width="0.22" text-anchor="middle">Oct</text>
<line x1="65.5" y1="643" x2="65.5" y2="647" stroke="#7b95a3"/>
<line x1="93.5" y1="643" x2="93.5" y2="647" stroke="#7b95a3"/>
<text transform="translate(92.7,656) scale(0.925,1)" font-size="9.7" fill="#000" stroke="#000" stroke-width="0.22" text-anchor="middle">05</text>
<line x1="122.5" y1="643" x2="122.5" y2="647" stroke="#7b95a3"/>
<text transform="translate(121.7,656) scale(0.925,1)" font-size="9.7" fill="#000" stroke="#000" stroke-width="0.22" text-anchor="middle">09</text>
<line x1="136.5" y1="643" x2="136.5" y2="647" stroke="#7b95a3"/>
<text transform="translate(135.7,656) scale(0.925,1)" font-size="9.7" fill="#000" stroke="#000" stroke-width="0.22" text-anchor="middle">10</text>
<line x1="164.5" y1="643" x2="164.5" y2="647" stroke="#7b95a3"/>
<text transform="translate(163.7,656) scale(0.925,1)" font-size="9.7" fill="#000" stroke="#000" stroke-width="0.22" text-anchor="middle">12</text>
<line x1="192.5" y1="643" x2="192.5" y2="647" stroke="#7b95a3"/>
<text transform="translate(191.7,656) scale(0.925,1)" font-size="9.7" fill="#000" stroke="#000" stroke-width="0.22" text-anchor="middle">16</text>
<line x1="206.5" y1="643" x2="206.5" y2="647" stroke="#7b95a3"/>
<text transform="translate(205.7,656) scale(0.925,1)" font-size="9.7" fill="#000" stroke="#000" stroke-width="0.22" text-anchor="middle">17</text>
<line x1="234.5" y1="643" x2="234.5" y2="647" stroke="#7b95a3"/>
<text transform="translate(233.7,656) scale(0.925,1)" font-size="9.7" fill="#000" stroke="#000" stroke-width="0.22" text-anchor="middle">19</text>
<line x1="263.5" y1="643" x2="263.5" y2="647" stroke="#7b95a3"/>
<text transform="translate(262.7,656) scale(0.925,1)" font-size="9.7" fill="#000" stroke="#000" stroke-width="0.22" text-anchor="middle">23</text>
<line x1="277.5" y1="643" x2="277.5" y2="647" stroke="#7b95a3"/>
<text transform="translate(276.7,656) scale(0.925,1)" font-size="9.7" fill="#000" stroke="#000" stroke-width="0.22" text-anchor="middle">24</text>
<line x1="305.5" y1="643" x2="305.5" y2="647" stroke="#7b95a3"/>
<text transform="translate(304.7,656) scale(0.925,1)" font-size="9.7" fill="#000" stroke="#000" stroke-width="0.22" text-anchor="middle">26</text>
<line x1="333.5" y1="643" x2="333.5" y2="647" stroke="#7b95a3"/>
<text transform="translate(332.7,656) scale(0.925,1)" font-size="9.7" fill="#000" stroke="#000" stroke-width="0.22" text-anchor="middle">30</text>
<line x1="347.5" y1="643" x2="347.5" y2="647" stroke="#7b95a3"/>
<line x1="361.5" y1="643" x2="361.5" y2="647" stroke="#7b95a3"/>
<text transform="translate(360.7,656) scale(0.925,1)" font-size="9.7" fill="#000" stroke="#000" stroke-width="0.22" text-anchor="middle">Nov</text>
<line x1="375.5" y1="643" x2="375.5" y2="647" stroke="#7b95a3"/>
<line x1="403.5" y1="643" x2="403.5" y2="647" stroke="#7b95a3"/>
<text transform="translate(402.7,656) scale(0.925,1)" font-size="9.7" fill="#000" stroke="#000" stroke-width="0.22" text-anchor="middle">06</text>
<line x1="418.5" y1="643" x2="418.5" y2="647" stroke="#7b95a3"/>
<text transform="translate(417.7,656) scale(0.925,1)" font-size="9.7" fill="#000" stroke="#000" stroke-width="0.22" text-anchor="middle">07</text>
<line x1="446.5" y1="643" x2="446.5" y2="647" stroke="#7b95a3"/>
<text transform="translate(445.7,656) scale(0.925,1)" font-size="9.7" fill="#000" stroke="#000" stroke-width="0.22" text-anchor="middle">09</text>
<line x1="474.5" y1="643" x2="474.5" y2="647" stroke="#7b95a3"/>
<text transform="translate(473.7,656) scale(0.925,1)" font-size="9.7" fill="#000" stroke="#000" stroke-width="0.22" text-anchor="middle">13</text>
<line x1="488.5" y1="643" x2="488.5" y2="647" stroke="#7b95a3"/>
<text transform="translate(487.7,656) scale(0.925,1)" font-size="9.7" fill="#000" stroke="#000" stroke-width="0.22" text-anchor="middle">14</text>
<line x1="516.5" y1="643" x2="516.5" y2="647" stroke="#7b95a3"/>
<text transform="translate(515.7,656) scale(0.925,1)" font-size="9.7" fill="#000" stroke="#000" stroke-width="0.22" text-anchor="middle">16</text>
<line x1="544.5" y1="643" x2="544.5" y2="647" stroke="#7b95a3"/>
<text transform="translate(543.7,656) scale(0.925,1)" font-size="9.7" fill="#000" stroke="#000" stroke-width="0.22" text-anchor="middle">20</text>
<line x1="558.5" y1="643" x2="558.5" y2="647" stroke="#7b95a3"/>
<text transform="translate(557.7,656) scale(0.925,1)" font-size="9.7" fill="#000" stroke="#000" stroke-width="0.22" text-anchor="middle">21</text>
<line x1="587.5" y1="643" x2="587.5" y2="647" stroke="#7b95a3"/>
<text transform="translate(586.7,656) scale(0.925,1)" font-size="9.7" fill="#000" stroke="#000" stroke-width="0.22" text-anchor="middle">23</text>
<line x1="615.5" y1="643" x2="615.5" y2="647" stroke="#7b95a3"/>
<text transform="translate(614.7,656) scale(0.925,1)" font-size="9.7" fill="#000" stroke="#000" stroke-width="0.22" text-anchor="middle">27</text>
<line x1="629.5" y1="643" x2="629.5" y2="647" stroke="#7b95a3"/>
<text transform="translate(628.7,656) scale(0.925,1)" font-size="9.7" fill="#000" stroke="#000" stroke-width="0.22" text-anchor="middle">28</text>
<line x1="657.5" y1="643" x2="657.5" y2="647" stroke="#7b95a3"/>
<line x1="671.5" y1="643" x2="671.5" y2="647" stroke="#7b95a3"/>
<text transform="translate(670.7,656) scale(0.925,1)" font-size="9.7" fill="#000" stroke="#000" stroke-width="0.22" text-anchor="middle">Dec</text>
<line x1="685.5" y1="643" x2="685.5" y2="647" stroke="#7b95a3"/>
<line x1="699.5" y1="643" x2="699.5" y2="647" stroke="#7b95a3"/>
<text transform="translate(698.7,656) scale(0.925,1)" font-size="9.7" fill="#000" stroke="#000" stroke-width="0.22" text-anchor="middle">05</text>
<line x1="728.5" y1="643" x2="728.5" y2="647" stroke="#7b95a3"/>
<text transform="translate(727.7,656) scale(0.925,1)" font-size="9.7" fill="#000" stroke="#000" stroke-width="0.22" text-anchor="middle">07</text>
<line x1="756.5" y1="643" x2="756.5" y2="647" stroke="#7b95a3"/>
<text transform="translate(755.7,656) scale(0.925,1)" font-size="9.7" fill="#000" stroke="#000" stroke-width="0.22" text-anchor="middle">11</text>
<line x1="770.5" y1="643" x2="770.5" y2="647" stroke="#7b95a3"/>
<text transform="translate(769.7,656) scale(0.925,1)" font-size="9.7" fill="#000" stroke="#000" stroke-width="0.22" text-anchor="middle">12</text>
<line x1="798.5" y1="643" x2="798.5" y2="647" stroke="#7b95a3"/>
<text transform="translate(797.7,656) scale(0.925,1)" font-size="9.7" fill="#000" stroke="#000" stroke-width="0.22" text-anchor="middle">14</text>
<line x1="826.5" y1="643" x2="826.5" y2="647" stroke="#7b95a3"/>
<text transform="translate(825.7,656) scale(0.925,1)" font-size="9.7" fill="#000" stroke="#000" stroke-width="0.22" text-anchor="middle">18</text>
<line x1="840.5" y1="643" x2="840.5" y2="647" stroke="#7b95a3"/>
<text transform="translate(839.7,656) scale(0.925,1)" font-size="9.7" fill="#000" stroke="#000" stroke-width="0.22" text-anchor="middle">19</text>
<line x1="868.5" y1="643" x2="868.5" y2="647" stroke="#7b95a3"/>
<text transform="translate(867.7,656) scale(0.925,1)" font-size="9.7" fill="#000" stroke="#000" stroke-width="0.22" text-anchor="middle">21</text>
<line x1="897.5" y1="643" x2="897.5" y2="647" stroke="#7b95a3"/>
<text transform="translate(896.7,656) scale(0.925,1)" font-size="9.7" fill="#000" stroke="#000" stroke-width="0.22" text-anchor="middle">26</text>
<line x1="925.5" y1="643" x2="925.5" y2="647" stroke="#7b95a3"/>
<text transform="translate(924.7,656) scale(0.925,1)" font-size="9.7" fill="#000" stroke="#000" stroke-width="0.22" text-anchor="middle">28</text>
<line x1="939.5" y1="643" x2="939.5" y2="647" stroke="#7b95a3"/>
<line x1="953.5" y1="643" x2="953.5" y2="647" stroke="#7b95a3"/>
<text transform="translate(952.7,656) scale(0.925,1)" font-size="9.7" fill="#000" stroke="#000" stroke-width="0.22" text-anchor="middle">2024</text>
<line x1="981.5" y1="643" x2="981.5" y2="647" stroke="#7b95a3"/>
<text transform="translate(980.7,656) scale(0.925,1)" font-size="9.7" fill="#000" stroke="#000" stroke-width="0.22" text-anchor="middle">04</text>
<line x1="1009.5" y1="643" x2="1009.5" y2="647" stroke="#7b95a3"/>
<text transform="translate(1008.7,656) scale(0.925,1)" font-size="9.7" fill="#000" stroke="#000" stroke-width="0.22" text-anchor="middle">08</text>
<line x1="1023.5" y1="643" x2="1023.5" y2="647" stroke="#7b95a3"/>
<text transform="translate(1022.7,656) scale(0.925,1)" font-size="9.7" fill="#000" stroke="#000" stroke-width="0.22" text-anchor="middle">09</text>
<line x1="1052.5" y1="643" x2="1052.5" y2="647" stroke="#7b95a3"/>
<text transform="translate(1051.7,656) scale(0.925,1)" font-size="9.7" fill="#000" stroke="#000" stroke-width="0.22" text-anchor="middle">11</text>
<line x1="1080.5" y1="643" x2="1080.5" y2="647" stroke="#7b95a3"/>
<text transform="translate(1079.7,656) scale(0.925,1)" font-size="9.7" fill="#000" stroke="#000" stroke-width="0.22" text-anchor="middle">15</text>
<line x1="1094.5" y1="643" x2="1094.5" y2="647" stroke="#7b95a3"/>
<text transform="translate(1093.7,656) scale(0.925,1)" font-size="9.7" fill="#000" stroke="#000" stroke-width="0.22" text-anchor="middle">16</text>
<line x1="1122.5" y1="643" x2="1122.5" y2="647" stroke="#7b95a3"/>
<text transform="translate(1121.7,656) scale(0.925,1)" font-size="9.7" fill="#000" stroke="#000" stroke-width="0.22" text-anchor="middle">18</text>
<defs>
<filter id="wsh" x="-10%" y="-20%" width="120%" height="140%">
<feGaussianBlur in="SourceAlpha" stdDeviation="0.8" result="b"/>
<feOffset in="b" dx="1.8" dy="1.8" result="o"/>
<feFlood flood-color="#222" flood-opacity="0.85"/>
<feComposite in2="o" operator="in" result="s"/>
<feMerge><feMergeNode in="s"/><feMergeNode in="SourceGraphic"/></feMerge>
</filter>
<filter id="tsh" x="-20%" y="-20%" width="140%" height="140%">
<feOffset in="SourceAlpha" dx="1.2" dy="1.2" result="o"/>
<feFlood flood-color="#404850" flood-opacity="0.55"/>
<feComposite in2="o" operator="in" result="s"/>
<feMerge><feMergeNode in="s"/><feMergeNode in="SourceGraphic"/></feMerge>
</filter>
</defs>
<g filter="url(#wsh)" opacity="0.7">
<g fill="#fff" stroke="none" transform="translate(113.4,0) skewX(-11)">
<!-- char1: in unskewed coords (x' = x + 0.19*(y-595)) -->
<path fill-rule="evenodd" d="M940,569 h9 v14 h-9 z M936,586 h10 v14 h-10 z M950,568 h6 v5 h-6 z M951,572 h40 v6 h-40 z M953,577 h38 v44 h-38 z M958,588 h7 v8 h-7 z M968,588 h9 v7 h-9 z M956,604 h15 v11 h-15 z M934,596 h20 v5.5 h-20 z M944,615 h10 v6 h-10 z"/>
<path d="M929,621 L937,621 L950,604 L943,604 z"/>
<!-- char2 -->
<path d="M993,571 h50 v7 h-50 z M995,571 h10 v26 h-10 z M995,588 h45 v8 h-45 z M1033,571 h10 v49 h-10 z M980,603 h52 v8 h-52 z M1012,613 h30 v7 h-30 z"/>
<!-- char3 -->
<path fill-rule="evenodd" d="M1042,569 h31 v42 h-31 z M1050,578 h12 v8 h-12 z M1050,590 h12 v12 h-12 z"/>
<path d="M1045,611 L1052,611 L1046,622 L1039,622 z M1064,611 L1071,611 L1076,620 L1069,620 z M1082,580 h32 v7 h-32 z M1099,568 h10 v53 h-10 z M1089,615 h12 v6 h-12 z M1096,587 L1102,592 L1080,612 L1073,608 z"/>
<!-- char4 -->
<path d="M1109,570 L1116,570 L1104,592 L1097,592 z M1102,587 h20 v6 h-20 z M1093,603 h34 v6 h-34 z M1136,568 L1143,568 L1118,604 L1111,604 z M1116,587 h42 v6 h-42 z M1152,568 L1169,568 L1155,596 L1146,596 z M1132,597 h34 v7 h-34 z M1141,603 h8 v14 h-8 z M1106,615 h50 v7 h-50 z"/>
</g>
</g>

</svg></body></html>
